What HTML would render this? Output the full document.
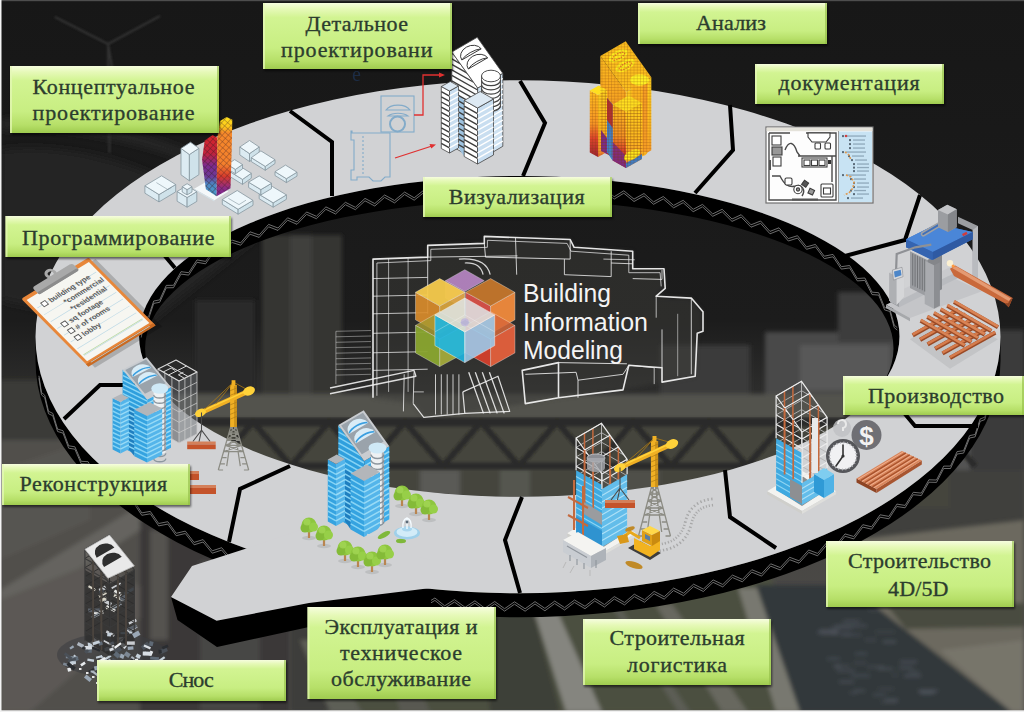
<!DOCTYPE html>
<html lang="ru"><head><meta charset="utf-8"><title>Building Information Modeling</title>
<style>
html,body{margin:0;padding:0;background:#1b1b1b;}
body{width:1024px;height:712px;overflow:hidden;position:relative;font-family:"Liberation Serif",serif;}
svg{display:block;position:absolute;left:0;top:0}
svg text{font-family:"Liberation Serif",serif}
svg text.sans{font-family:"Liberation Sans",sans-serif}
</style></head><body>
<svg width="1024" height="712" viewBox="0 0 1024 712">
<defs>
<linearGradient id="bgv" x1="0" y1="0" x2="0" y2="1">
 <stop offset="0" stop-color="#171717"/><stop offset="0.45" stop-color="#1c1c1c"/>
 <stop offset="0.56" stop-color="#2f2f2e"/><stop offset="0.66" stop-color="#454442"/><stop offset="1" stop-color="#4f4d49"/>
</linearGradient>
<filter id="b2" x="-10%" y="-10%" width="120%" height="120%"><feGaussianBlur stdDeviation="2"/></filter>
<filter id="b4" x="-10%" y="-10%" width="120%" height="120%"><feGaussianBlur stdDeviation="4"/></filter>
<filter id="b1" x="-10%" y="-10%" width="120%" height="120%"><feGaussianBlur stdDeviation="0.8"/></filter>
<filter id="b05" x="-5%" y="-5%" width="110%" height="110%"><feGaussianBlur stdDeviation="0.45"/></filter>
<linearGradient id="lab" x1="0" y1="0" x2="0" y2="1">
 <stop offset="0" stop-color="#f6fdde"/><stop offset="0.09" stop-color="#e6f9b8"/><stop offset="0.22" stop-color="#d2f492"/>
 <stop offset="0.68" stop-color="#c8ee82"/><stop offset="0.88" stop-color="#b6df68"/><stop offset="1" stop-color="#9fcb4f"/>
</linearGradient>
</defs>
<rect width="1024" height="712" fill="url(#bgv)"/>
<g filter="url(#b4)">
<path d="M0,150 C80,140 170,170 260,235 L140,330 L0,300 Z" fill="#262626" opacity="0.8"/>
<path d="M0,120 C60,112 150,130 230,170 L230,178 C150,140 60,124 0,130 Z" fill="#2c2c2c" opacity="0.7"/>
</g>
<g stroke="#3a3a3a" stroke-width="2" fill="none" opacity="0.8" filter="url(#b1)"><path d="M108,44 L109.5,153 M108,44 L55,17 M108,44 L160,16 M108,44 L113,72"/></g>
<g filter="url(#b2)">
<rect x="930" y="330" width="94" height="200" fill="#3b3b3b"/>
<rect x="955" y="395" width="15" height="130" fill="#525252"/>
<rect x="840" y="470" width="184" height="70" fill="#3f3f3e"/>
<rect x="0" y="395" width="300" height="317" fill="#514f4c"/>
<polygon points="0,590 140,505 140,530 0,620" fill="#65635f"/>
<rect x="0" y="380" width="60" height="60" fill="#3a3a39"/>
<polygon points="0,470 90,440 90,520 0,560" fill="#565451"/>
<polygon points="0,600 100,560 160,600 30,712 0,712" fill="#5b5955"/>
<rect x="140" y="520" width="150" height="192" fill="#3a3938"/>
<rect x="150" y="530" width="18" height="110" fill="#55534f"/>
<rect x="200" y="560" width="60" height="150" fill="#474644"/>
<rect x="262" y="235" width="80" height="200" fill="#343432"/>
<rect x="290" y="235" width="22" height="200" fill="#3f3f3c"/>
<rect x="195" y="300" width="60" height="150" fill="#2c2c2b"/>
<rect x="765" y="332" width="150" height="70" fill="#4a4a4a"/>
<rect x="800" y="345" width="90" height="45" fill="#585858"/>
<rect x="838" y="292" width="70" height="50" fill="#3c3c3c"/>
<rect x="660" y="345" width="90" height="50" fill="#3a3a3a"/>
<rect x="170" y="394" width="780" height="24" fill="#53534e"/>
<rect x="170" y="418" width="780" height="90" fill="#44453d"/>
<rect x="420" y="470" width="40" height="40" fill="#5a5a57"/><rect x="500" y="470" width="30" height="40" fill="#55564f"/><rect x="600" y="470" width="60" height="40" fill="#4f504a"/>
</g>
<g stroke="#2b2b29" stroke-width="7" fill="none" filter="url(#b1)">
<path d="M180,422 L940,422" stroke-width="9"/><path d="M180,466 L940,466" stroke-width="7"/>
<path d="M215,466 L253,422 L291,466 M291,466 L329,422 L367,466 M367,466 L405,422 L443,466 M443,466 L481,422 L519,466 M519,466 L557,422 L595,466 M595,466 L633,422 L671,466 M671,466 L709,422 L747,466 M747,466 L785,422 L823,466 M823,466 L861,422 L899,466 M899,466 L937,422 L975,466" stroke-width="6"/>
</g>
<g filter="url(#b2)">
<polygon points="290,590 770,570 800,712 290,712" fill="#4c4f41"/>
<polygon points="290,600 330,600 330,712 290,712" fill="#3d3d3a"/>
<polygon points="480,600 530,600 560,712 490,712" fill="#3e4038"/>
<polygon points="533,608 556,608 602,712 566,712" fill="#85857f"/>
<polygon points="655,604 672,604 748,712 722,712" fill="#67675f"/>
<polygon points="610,604 618,604 690,712 678,712" fill="#5c5d55"/>
<polygon points="756,585 862,585 880,610 1012,712 799,712" fill="#33373a"/>
<polygon points="738,588 757,588 800,712 776,712" fill="#787870"/>
<polygon points="850,540 1024,520 1024,712 1012,712 880,610 862,585" fill="#6c695f"/>
<polygon points="888,607 1024,603 1024,627 906,629" fill="#4a4c40"/>
<polygon points="940,650 1024,640 1024,712 1012,712" fill="#77746a"/>
<g><rect x="855" y="625" width="12" height="1.6" fill="#59606a" opacity="0.70"/><rect x="835" y="666" width="6" height="1.6" fill="#59606a" opacity="0.82"/><rect x="831" y="627" width="22" height="1.6" fill="#59606a" opacity="0.64"/><rect x="878" y="688" width="16" height="1.6" fill="#59606a" opacity="0.48"/><rect x="899" y="667" width="14" height="1.6" fill="#59606a" opacity="0.77"/><rect x="837" y="670" width="18" height="1.6" fill="#59606a" opacity="0.70"/><rect x="817" y="632" width="20" height="1.6" fill="#59606a" opacity="0.64"/><rect x="904" y="675" width="17" height="1.6" fill="#59606a" opacity="0.86"/><rect x="883" y="641" width="13" height="1.6" fill="#59606a" opacity="0.87"/><rect x="849" y="692" width="8" height="1.6" fill="#59606a" opacity="0.51"/><rect x="881" y="701" width="16" height="1.6" fill="#59606a" opacity="0.55"/><rect x="855" y="653" width="12" height="1.6" fill="#59606a" opacity="0.69"/><rect x="900" y="661" width="17" height="1.6" fill="#59606a" opacity="0.86"/><rect x="920" y="690" width="17" height="1.6" fill="#59606a" opacity="0.48"/><rect x="918" y="690" width="20" height="1.6" fill="#59606a" opacity="0.68"/><rect x="851" y="675" width="19" height="1.6" fill="#59606a" opacity="0.69"/><rect x="819" y="630" width="20" height="1.6" fill="#59606a" opacity="0.89"/><rect x="868" y="609" width="13" height="1.6" fill="#59606a" opacity="0.48"/><rect x="875" y="631" width="20" height="1.6" fill="#59606a" opacity="0.42"/><rect x="833" y="665" width="17" height="1.6" fill="#59606a" opacity="0.57"/><rect x="920" y="692" width="14" height="1.6" fill="#59606a" opacity="0.90"/><rect x="821" y="633" width="16" height="1.6" fill="#59606a" opacity="0.42"/><rect x="842" y="621" width="16" height="1.6" fill="#59606a" opacity="0.48"/><rect x="871" y="604" width="11" height="1.6" fill="#59606a" opacity="0.88"/><rect x="873" y="694" width="13" height="1.6" fill="#59606a" opacity="0.66"/><rect x="878" y="668" width="15" height="1.6" fill="#59606a" opacity="0.71"/><rect x="885" y="699" width="13" height="1.6" fill="#59606a" opacity="0.76"/><rect x="835" y="625" width="22" height="1.6" fill="#59606a" opacity="0.66"/><rect x="827" y="658" width="13" height="1.6" fill="#59606a" opacity="0.69"/><rect x="850" y="602" width="16" height="1.6" fill="#59606a" opacity="0.43"/><rect x="867" y="666" width="17" height="1.6" fill="#59606a" opacity="0.58"/><rect x="892" y="674" width="6" height="1.6" fill="#59606a" opacity="0.43"/><rect x="909" y="671" width="10" height="1.6" fill="#59606a" opacity="0.63"/><rect x="854" y="662" width="12" height="1.6" fill="#59606a" opacity="0.56"/><rect x="865" y="639" width="11" height="1.6" fill="#59606a" opacity="0.59"/><rect x="839" y="681" width="15" height="1.6" fill="#59606a" opacity="0.77"/><rect x="832" y="633" width="19" height="1.6" fill="#59606a" opacity="0.52"/><rect x="844" y="620" width="17" height="1.6" fill="#59606a" opacity="0.45"/><rect x="842" y="634" width="19" height="1.6" fill="#59606a" opacity="0.62"/><rect x="854" y="690" width="11" height="1.6" fill="#59606a" opacity="0.73"/></g>
<polygon points="330,712 362,712 318,640 300,640" fill="#5d5e56"/>
<polygon points="400,712 430,712 400,640 380,640" fill="#585951"/>
</g>
<path d="M35.5,336.8 A482.5,256.5 0 0 0 1000.5,336.8 L1000.5,360.8 A482.5,256.5 0 0 1 35.5,360.8 Z" fill="#000"/>
<clipPath id="iwc"><ellipse cx="519.3" cy="336.4" rx="380.2" ry="160.3"/></clipPath>
<path clip-path="url(#iwc)" fill-rule="evenodd" d="M0,0H1024V712H0Z M145.09999999999997,348.4 A374.2,148.3 0 1 0 893.5,348.4 A374.2,148.3 0 1 0 145.09999999999997,348.4 Z" fill="#000"/>
<polyline points="997.9,379.1 995.5,382.2 992.6,398.5 989.0,401.0 984.8,417.2 980.2,418.9 975.1,434.5 969.6,435.6 963.6,450.7 957.1,451.6 950.5,466.1 943.7,466.1 936.5,480.0 928.9,479.8 921.3,493.1 913.3,492.3 905.1,505.4 896.9,504.1 888.9,516.4 880.1,514.8 871.6,526.8 862.8,524.7 853.8,536.5 845.0,533.9 836.1,545.2 827.0,542.3 817.6,553.4 808.7,550.0 799.0,560.8 789.7,557.3 780.3,567.6 770.7,563.8 761.6,573.7 751.8,569.7 742.4,579.4 732.4,575.1 722.8,584.5 713.1,579.9 703.4,589.1 693.6,584.2 683.6,593.2 673.6,588.1 664.2,596.7 654.1,591.4 644.5,599.8 634.3,594.2 624.6,602.5 614.3,596.6 604.5,604.6 594.8,598.5 585.0,606.3 574.5,600.0 564.6,607.6 554.7,601.1 544.9,608.4 535.0,601.6 525.1,608.8 514.5,601.8 504.6,608.7 494.7,601.5 484.8,608.2 474.9,600.8 465.1,607.3 454.5,599.6 444.7,605.8 434.9,598.0 425.2,604.0 414.8,595.9 405.2,601.7 394.9,593.3 385.3,598.9 375.2,590.3 365.7,595.7 355.7,586.9 345.7,591.9 335.9,582.8 326.1,587.6 316.4,578.3 306.8,582.9 297.3,573.4 287.3,577.6 278.1,567.8 268.3,571.8 258.7,561.6 249.8,565.5 239.9,554.9 230.7,558.4 221.7,547.7 212.3,550.8 203.1,539.6 194.1,542.4 185.3,531.1 176.2,533.3 167.8,521.7 158.7,523.5 150.3,511.4 141.8,512.9 133.5,500.3 125.5,501.5 117.5,488.3 109.7,489.0 102.4,475.6 95.0,475.7 88.1,461.7 81.2,461.3 74.9,446.8 68.7,445.8 63.0,430.7 57.6,429.1 52.8,413.4 48.5,411.3 44.7,395.2 41.5,392.5 38.9,375.8" fill="none" stroke="#808080" stroke-width="0.85" />
<polyline points="141.2,335.1 144.3,318.6 148.6,316.4 153.7,301.0 159.7,299.9 166.3,285.4 173.5,285.3 181.0,271.7 188.7,272.7 197.0,259.9 205.6,261.4 214.0,249.4 222.8,251.5 231.8,240.0 240.7,242.8 250.0,231.8 259.2,235.0 268.6,224.4 278.0,228.0 287.6,217.8 297.0,221.9 306.6,212.0 316.4,216.3 325.9,206.9 335.6,211.6 345.4,202.3 355.4,207.3 365.0,198.4 374.8,203.6 384.6,195.0 394.6,200.5 404.6,192.1 414.2,197.8 424.4,189.7 434.2,195.7 444.5,187.7 454.4,194.0 464.3,186.3 474.3,192.7 484.2,185.3 494.2,191.9 504.3,184.7 514.3,191.6 524.3,184.6 534.3,191.7 544.4,184.9 554.4,192.3 564.3,185.7 574.3,193.3 584.2,187.0 594.1,194.7 603.9,188.6 614.2,196.7 623.8,190.8 634.0,199.1 644.0,193.5 653.5,201.9 663.3,196.5 673.6,205.4 683.2,200.3 693.2,209.3 702.5,204.4 712.7,213.9 722.2,209.3 732.0,219.0 741.2,214.7 751.0,224.8 760.6,221.0 770.0,231.4 779.0,227.8 788.3,238.6 797.5,235.7 806.5,246.9 815.4,244.4 824.3,256.2 833.0,254.4 841.3,266.7 849.6,265.5 857.3,278.5 864.9,278.0 872.1,292.2 878.7,292.7 884.6,307.5 889.9,309.1 894.2,325.1 897.3,327.7" fill="none" stroke="#808080" stroke-width="0.85" />
<polyline points="997.9,381.5 995.5,384.6 992.6,400.9 989.0,403.4 984.8,419.6 980.2,421.3 975.1,436.9 969.6,438.0 963.6,453.1 957.1,454.0 950.5,468.5 943.7,468.5 936.5,482.4 928.9,482.2 921.3,495.5 913.3,494.7 905.1,507.8 896.9,506.5 888.9,518.8 880.1,517.2 871.6,529.2 862.8,527.1 853.8,538.9 845.0,536.3 836.1,547.6 827.0,544.7 817.6,555.8 808.7,552.4 799.0,563.2 789.7,559.7 780.3,570.0 770.7,566.2 761.6,576.1 751.8,572.1 742.4,581.8 732.4,577.5 722.8,586.9 713.1,582.3 703.4,591.5 693.6,586.6 683.6,595.6 673.6,590.5 664.2,599.1 654.1,593.8 644.5,602.2 634.3,596.6 624.6,604.9 614.3,599.0 604.5,607.0 594.8,600.9 585.0,608.7 574.5,602.4 564.6,610.0 554.7,603.5 544.9,610.8 535.0,604.0 525.1,611.2 514.5,604.2 504.6,611.1 494.7,603.9 484.8,610.6 474.9,603.2 465.1,609.7 454.5,602.0 444.7,608.2 434.9,600.4 425.2,606.4 414.8,598.3 405.2,604.1 394.9,595.7 385.3,601.3 375.2,592.7 365.7,598.1 355.7,589.3 345.7,594.3 335.9,585.2 326.1,590.0 316.4,580.7 306.8,585.3 297.3,575.8 287.3,580.0 278.1,570.2 268.3,574.2 258.7,564.0 249.8,567.9 239.9,557.3 230.7,560.8 221.7,550.1 212.3,553.2 203.1,542.0 194.1,544.8 185.3,533.5 176.2,535.7 167.8,524.1 158.7,525.9 150.3,513.8 141.8,515.3 133.5,502.7 125.5,503.9 117.5,490.7 109.7,491.4 102.4,478.0 95.0,478.1 88.1,464.1 81.2,463.7 74.9,449.2 68.7,448.2 63.0,433.1 57.6,431.5 52.8,415.8 48.5,413.7 44.7,397.6 41.5,394.9 38.9,378.2" fill="none" stroke="#808080" stroke-width="0.85" />
<polyline points="141.2,337.5 144.3,321.0 148.6,318.8 153.7,303.4 159.7,302.3 166.3,287.8 173.5,287.7 181.0,274.1 188.7,275.1 197.0,262.3 205.6,263.8 214.0,251.8 222.8,253.9 231.8,242.4 240.7,245.2 250.0,234.2 259.2,237.4 268.6,226.8 278.0,230.4 287.6,220.2 297.0,224.3 306.6,214.4 316.4,218.7 325.9,209.3 335.6,214.0 345.4,204.7 355.4,209.7 365.0,200.8 374.8,206.0 384.6,197.4 394.6,202.9 404.6,194.5 414.2,200.2 424.4,192.1 434.2,198.1 444.5,190.1 454.4,196.4 464.3,188.7 474.3,195.1 484.2,187.7 494.2,194.3 504.3,187.1 514.3,194.0 524.3,187.0 534.3,194.1 544.4,187.3 554.4,194.7 564.3,188.1 574.3,195.7 584.2,189.4 594.1,197.1 603.9,191.0 614.2,199.1 623.8,193.2 634.0,201.5 644.0,195.9 653.5,204.3 663.3,198.9 673.6,207.8 683.2,202.7 693.2,211.7 702.5,206.8 712.7,216.3 722.2,211.7 732.0,221.4 741.2,217.1 751.0,227.2 760.6,223.4 770.0,233.8 779.0,230.2 788.3,241.0 797.5,238.1 806.5,249.3 815.4,246.8 824.3,258.6 833.0,256.8 841.3,269.1 849.6,267.9 857.3,280.9 864.9,280.4 872.1,294.6 878.7,295.1 884.6,309.9 889.9,311.5 894.2,327.5 897.3,330.1" fill="none" stroke="#808080" stroke-width="0.85" />
<polygon points="171.0,597.0 177.5,620.0 217.0,647.0 309.0,627.0 431.0,611.0 431.0,586.0 309.0,600.0 216.0,619.0" fill="#000" />
<path fill-rule="evenodd" fill="#d1d2d4" d="M35.5,336.8 A482.5,256.5 0 1 1 1000.5,336.8 A482.5,256.5 0 1 1 35.5,336.8 Z M139.09999999999997,336.4 A380.2,160.3 0 1 0 899.5,336.4 A380.2,160.3 0 1 0 139.09999999999997,336.4 Z"/>
<polygon points="251.0,547.0 192.0,566.0 171.0,597.0 216.6,620.7 309.0,603.0 431.0,588.0 431.0,560.0 300.0,530.0" fill="#d1d2d4" />
<polyline points="150.0,238.0 175.0,268.0" fill="none" stroke="#000" stroke-width="4" stroke-linejoin="miter"/>
<polyline points="290.0,111.0 332.0,142.0 332.0,196.0" fill="none" stroke="#000" stroke-width="4" stroke-linejoin="miter"/>
<polyline points="520.0,81.0 545.0,123.0 523.0,176.0" fill="none" stroke="#000" stroke-width="4" stroke-linejoin="miter"/>
<polyline points="730.0,105.0 733.0,150.0 695.0,193.0" fill="none" stroke="#000" stroke-width="4" stroke-linejoin="miter"/>
<polyline points="920.0,195.0 905.0,240.0 845.0,256.0" fill="none" stroke="#000" stroke-width="4" stroke-linejoin="miter"/>
<polyline points="900.0,408.0 915.0,426.0 978.0,426.0" fill="none" stroke="#000" stroke-width="4" stroke-linejoin="miter"/>
<polyline points="725.0,470.0 730.0,517.0 776.0,548.0" fill="none" stroke="#000" stroke-width="4" stroke-linejoin="miter"/>
<polyline points="522.0,497.0 505.0,540.0 520.0,593.0" fill="none" stroke="#000" stroke-width="4" stroke-linejoin="miter"/>
<polyline points="290.0,466.0 240.0,489.0 229.0,542.0" fill="none" stroke="#000" stroke-width="4" stroke-linejoin="miter"/>
<polyline points="135.0,385.0 100.0,385.0 64.0,419.0" fill="none" stroke="#000" stroke-width="4" stroke-linejoin="miter"/>
<g transform="matrix(0.853,-0.522,0.703,0.711,21.25,298.75)">
<rect x="4" y="5" width="79" height="95" fill="#000" opacity="0.18"/>
<rect x="0" y="0" width="79" height="95" rx="2" fill="#e8873a"/>
<rect x="0" y="92" width="79" height="3.5" fill="#c96a22"/>
<rect x="3" y="4" width="73" height="86" fill="#f6f6f1"/>
<rect x="5" y="16.5" width="69" height="0.7" fill="#bcd9e6"/>
<rect x="5" y="26.0" width="69" height="0.7" fill="#bcd9e6"/>
<rect x="5" y="35.5" width="69" height="0.7" fill="#bcd9e6"/>
<rect x="5" y="45.0" width="69" height="0.7" fill="#bcd9e6"/>
<rect x="5" y="54.5" width="69" height="0.7" fill="#bcd9e6"/>
<rect x="5" y="64.0" width="69" height="0.7" fill="#bcd9e6"/>
<rect x="5" y="73.5" width="69" height="0.7" fill="#bcd9e6"/>
<rect x="5" y="83.0" width="69" height="0.7" fill="#bcd9e6"/>
<rect x="5" y="92.5" width="69" height="0.7" fill="#bcd9e6"/>
<rect x="5" y="82" width="69" height="0.8" fill="#b8d8a0"/>
<rect x="11" y="14.3" width="5" height="5" fill="#fff" stroke="#555" stroke-width="0.9"/>
<text class="sans" x="19" y="19.5" font-size="7.6" font-weight="bold" fill="#5c5c5c">building type</text>
<text class="sans" x="29" y="29.0" font-size="7.6" font-weight="bold" fill="#5c5c5c">*commercial</text>
<text class="sans" x="29" y="38.5" font-size="7.6" font-weight="bold" fill="#5c5c5c">*residential</text>
<rect x="11" y="42.8" width="5" height="5" fill="#fff" stroke="#555" stroke-width="0.9"/>
<text class="sans" x="19" y="48.0" font-size="7.6" font-weight="bold" fill="#5c5c5c">sq footage</text>
<rect x="11" y="52.3" width="5" height="5" fill="#fff" stroke="#555" stroke-width="0.9"/>
<text class="sans" x="19" y="57.5" font-size="7.6" font-weight="bold" fill="#5c5c5c"># of rooms</text>
<rect x="11" y="61.8" width="5" height="5" fill="#fff" stroke="#555" stroke-width="0.9"/>
<text class="sans" x="19" y="67.0" font-size="7.6" font-weight="bold" fill="#5c5c5c">lobby</text>
<rect x="16" y="-4" width="47" height="10" rx="3" fill="#a9a9a9"/>
<rect x="16" y="3" width="47" height="3" rx="1.5" fill="#8c8c8c"/>
<circle cx="39.5" cy="-6" r="4.2" fill="none" stroke="#a9a9a9" stroke-width="3"/>
</g>
<polygon points="239.8,154.9 249.5,161.5 249.5,153.6 239.8,147.0" fill="#dcebf2" stroke="#8797a0" stroke-width="0.8" stroke-linejoin="round" />
<polygon points="249.5,161.5 259.2,154.9 259.2,147.0 249.5,153.6" fill="#cfe2ea" stroke="#8797a0" stroke-width="0.8" stroke-linejoin="round" />
<polygon points="239.8,147.0 249.5,153.6 259.2,147.0 249.5,140.5" fill="#eef7fb" stroke="#8797a0" stroke-width="0.8" stroke-linejoin="round" />
<polygon points="251.3,161.6 265.3,170.3 265.3,166.4 251.3,157.7" fill="#dcebf2" stroke="#8797a0" stroke-width="0.8" stroke-linejoin="round" />
<polygon points="265.3,170.3 275.0,163.5 275.0,159.7 265.3,166.4" fill="#cfe2ea" stroke="#8797a0" stroke-width="0.8" stroke-linejoin="round" />
<polygon points="251.3,157.7 265.3,166.4 275.0,159.7 260.9,150.9" fill="#eef7fb" stroke="#8797a0" stroke-width="0.8" stroke-linejoin="round" />
<polygon points="275.0,175.5 286.4,182.6 286.4,178.7 275.0,171.7" fill="#dcebf2" stroke="#8797a0" stroke-width="0.8" stroke-linejoin="round" />
<polygon points="286.4,182.6 297.0,176.1 297.0,172.2 286.4,178.7" fill="#cfe2ea" stroke="#8797a0" stroke-width="0.8" stroke-linejoin="round" />
<polygon points="275.0,171.7 286.4,178.7 297.0,172.2 285.5,165.1" fill="#eef7fb" stroke="#8797a0" stroke-width="0.8" stroke-linejoin="round" />
<polygon points="230.2,176.7 242.5,184.4 242.5,179.4 230.2,171.8" fill="#dcebf2" stroke="#8797a0" stroke-width="0.8" stroke-linejoin="round" />
<polygon points="242.5,184.4 251.3,178.2 251.3,173.3 242.5,179.4" fill="#cfe2ea" stroke="#8797a0" stroke-width="0.8" stroke-linejoin="round" />
<polygon points="230.2,171.8 242.5,179.4 251.3,173.3 239.0,165.7" fill="#eef7fb" stroke="#8797a0" stroke-width="0.8" stroke-linejoin="round" />
<polygon points="227.5,168.9 235.4,173.8 235.4,169.4 227.5,164.5" fill="#dcebf2" stroke="#8797a0" stroke-width="0.8" stroke-linejoin="round" />
<polygon points="235.4,173.8 242.5,168.9 242.5,164.5 235.4,169.4" fill="#cfe2ea" stroke="#8797a0" stroke-width="0.8" stroke-linejoin="round" />
<polygon points="227.5,164.5 235.4,169.4 242.5,164.5 234.6,159.6" fill="#eef7fb" stroke="#8797a0" stroke-width="0.8" stroke-linejoin="round" />
<polygon points="194.1,188.8 208.2,180.8 228.4,191.4 214.4,200.2" fill="#f4f8fa" />
<polygon points="194.1,188.8 214.4,200.2 214.4,201.6 194.1,190.0" fill="#d5e2e8" />
<polygon points="181.0,174.8 189.4,180.8 189.4,154.5 181.0,148.4" fill="#dcebf2" stroke="#8797a0" stroke-width="0.8" stroke-linejoin="round" />
<polygon points="189.4,180.8 198.9,174.7 198.9,148.3 189.4,154.5" fill="#cfe2ea" stroke="#8797a0" stroke-width="0.8" stroke-linejoin="round" />
<polygon points="181.0,148.4 189.4,154.5 198.9,148.3 190.5,142.2" fill="#eef7fb" stroke="#8797a0" stroke-width="0.8" stroke-linejoin="round" />
<polygon points="144.9,193.2 159.0,201.9 159.0,194.6 144.9,185.8" fill="#dcebf2" stroke="#8797a0" stroke-width="0.8" stroke-linejoin="round" />
<polygon points="159.0,201.9 175.7,191.9 175.7,184.5 159.0,194.6" fill="#cfe2ea" stroke="#8797a0" stroke-width="0.8" stroke-linejoin="round" />
<polygon points="144.9,185.8 159.0,194.6 175.7,184.5 161.6,175.8" fill="#eef7fb" stroke="#8797a0" stroke-width="0.8" stroke-linejoin="round" />
<polyline points="156.4,182.6 167.8,189.6 171.3,187.5" fill="none" stroke="#8797a0" stroke-width="0.6" />
<polygon points="177.1,201.2 187.1,207.2 187.1,197.5 177.1,191.5" fill="#dcebf2" stroke="#8797a0" stroke-width="0.8" stroke-linejoin="round" />
<polygon points="187.1,207.2 196.8,201.4 196.8,191.7 187.1,197.5" fill="#cfe2ea" stroke="#8797a0" stroke-width="0.8" stroke-linejoin="round" />
<polygon points="177.1,191.5 187.1,197.5 196.8,191.7 186.8,185.7" fill="#eef7fb" stroke="#8797a0" stroke-width="0.8" stroke-linejoin="round" />
<polygon points="182.2,192.0 187.1,194.9 187.1,189.6 182.2,186.7" fill="#dcebf2" stroke="#8797a0" stroke-width="0.8" stroke-linejoin="round" />
<polygon points="187.1,194.9 192.0,192.0 192.0,186.7 187.1,189.6" fill="#cfe2ea" stroke="#8797a0" stroke-width="0.8" stroke-linejoin="round" />
<polygon points="182.2,186.7 187.1,189.6 192.0,186.7 187.1,183.7" fill="#eef7fb" stroke="#8797a0" stroke-width="0.8" stroke-linejoin="round" />
<polygon points="259.2,198.8 273.2,207.2 273.2,202.8 259.2,194.4" fill="#dcebf2" stroke="#8797a0" stroke-width="0.8" stroke-linejoin="round" />
<polygon points="273.2,207.2 286.4,199.3 286.4,194.9 273.2,202.8" fill="#cfe2ea" stroke="#8797a0" stroke-width="0.8" stroke-linejoin="round" />
<polygon points="259.2,194.4 273.2,202.8 286.4,194.9 272.4,186.5" fill="#eef7fb" stroke="#8797a0" stroke-width="0.8" stroke-linejoin="round" />
<polygon points="248.6,187.5 260.9,194.9 260.9,189.6 248.6,182.2" fill="#dcebf2" stroke="#8797a0" stroke-width="0.8" stroke-linejoin="round" />
<polygon points="260.9,194.9 271.5,188.6 271.5,183.3 260.9,189.6" fill="#cfe2ea" stroke="#8797a0" stroke-width="0.8" stroke-linejoin="round" />
<polygon points="248.6,182.2 260.9,189.6 271.5,183.3 259.2,175.9" fill="#eef7fb" stroke="#8797a0" stroke-width="0.8" stroke-linejoin="round" />
<polygon points="222.3,204.4 238.1,214.2 238.1,209.3 222.3,199.5" fill="#dcebf2" stroke="#8797a0" stroke-width="0.8" stroke-linejoin="round" />
<polygon points="238.1,214.2 253.0,205.3 253.0,200.4 238.1,209.3" fill="#cfe2ea" stroke="#8797a0" stroke-width="0.8" stroke-linejoin="round" />
<polygon points="222.3,199.5 238.1,209.3 253.0,200.4 237.2,190.5" fill="#eef7fb" stroke="#8797a0" stroke-width="0.8" stroke-linejoin="round" />
<polyline points="228.4,198.4 239.0,204.6 246.0,200.2" fill="none" stroke="#8797a0" stroke-width="0.6" />
<defs><linearGradient id="twL" x1="0" y1="0" x2="0" y2="1"><stop offset="0" stop-color="#d8262a"/><stop offset="0.3" stop-color="#c0233c"/><stop offset="0.5" stop-color="#7d2a8e"/><stop offset="0.68" stop-color="#6a3a98"/><stop offset="0.8" stop-color="#4b86c2"/><stop offset="1" stop-color="#4aa0cf"/></linearGradient><linearGradient id="twR" x1="0" y1="0" x2="0" y2="1"><stop offset="0" stop-color="#ffe21c"/><stop offset="0.13" stop-color="#fdc51c"/><stop offset="0.2" stop-color="#f6892a"/><stop offset="0.6" stop-color="#f47f2c"/><stop offset="0.75" stop-color="#d63a2c"/><stop offset="0.9" stop-color="#8c2a86"/><stop offset="1" stop-color="#7a2a90"/></linearGradient><pattern id="dia" width="4.4" height="4.4" patternUnits="userSpaceOnUse" patternTransform="rotate(42)"><path d="M0,0H4.4M0,0V4.4" stroke="#3a1c24" stroke-width="0.9" fill="none"/></pattern></defs>
<polygon points="204.7,140.4 212.6,135.1 217.3,137.8 216.6,196.3 205.9,189.3 202.1,159.8" fill="url(#twL)" />
<polygon points="217.3,137.8 220.0,121.1 226.7,116.9 232.3,119.7 231.6,152.7 230.5,188.2 216.6,196.3" fill="url(#twR)" />
<polygon points="204.7,140.4 212.6,135.1 217.3,137.8 216.6,196.3 205.9,189.3 202.1,159.8" fill="url(#dia)" opacity="0.75"/>
<polygon points="217.3,137.8 220.0,121.1 226.7,116.9 232.3,119.7 231.6,152.7 230.5,188.2 216.6,196.3" fill="url(#dia)" opacity="0.6"/>
<g fill="none" stroke="#7fa9c9" stroke-width="1.1" opacity="0.95">
<rect x="381" y="96" width="33" height="36"/>
<path d="M386,110 A13,8 0 0 1 410,110 Z M388,116 A12,6 0 0 1 408,116 Z"/>
<circle cx="397.5" cy="124" r="7.5" stroke-width="2"/>
<path d="M352,133 h38 v44 h-5 l-4,4 h-8 l-4,-4 h-12 v3 h-6 v-10 h3 v-30 h-3 v-9 h1 z"/>
<path d="M363,136 v40" stroke-dasharray="2 2"/>
</g>
<g fill="none" stroke="#e03030" stroke-width="1.3"><path d="M414,115 h9 v-40 h20"/><path d="M395,158 L432,146"/></g>
<path d="M445,75 l-6,-2.5 v5z M436,144.5 l-6.5,-0.5 l1.8,4.5z" fill="#e03030"/>
<polygon points="451.8,52.0 477.7,88.0 477.7,161.0 451.8,146.3" fill="#fdfdfd" stroke="#444" stroke-width="0.8" stroke-linejoin="round" />
<polygon points="477.7,88.0 502.8,73.3 502.8,146.3 477.7,161.0" fill="#cfe2f2" stroke="#444" stroke-width="0.8" stroke-linejoin="round" />
<polygon points="458.5,148.0 464.2,156.5 464.2,100.5 458.5,94.0" fill="#9fc3e0" />
<clipPath id="c1"><polygon points="451.8,52.0 477.7,88.0 477.7,161.0 451.8,146.3"/></clipPath>
<path d="M451.8,140.8L477.7,155.5M451.8,135.4L477.7,150.1M451.8,129.9L477.7,144.6M451.8,124.5L477.7,139.2M451.8,119.0L477.7,133.7M451.8,113.5L477.7,128.2M451.8,108.1L477.7,122.8M451.8,102.6L477.7,117.3M451.8,97.1L477.7,111.8M451.8,91.7L477.7,106.4M451.8,86.2L477.7,100.9M451.8,80.8L477.7,95.5M451.8,75.3L477.7,90.0M451.8,69.8L477.7,84.5M451.8,64.4L477.7,79.1M451.8,58.9L477.7,73.6M451.8,53.4L477.7,68.1M451.8,48.0L477.7,62.7M451.8,42.5L477.7,57.2M451.8,37.1L477.7,51.8" stroke="#3d3d3d" stroke-width="1.35" fill="none" opacity="1" clip-path="url(#c1)"/>
<path d="M477.7,155.8L502.8,141.1M477.7,150.6L502.8,135.9M477.7,145.4L502.8,130.7M477.7,140.1L502.8,125.4M477.7,134.9L502.8,120.2M477.7,129.7L502.8,115.0M477.7,124.5L502.8,109.8M477.7,119.3L502.8,104.6M477.7,114.1L502.8,99.4M477.7,108.9L502.8,94.2M477.7,103.6L502.8,88.9M477.7,98.4L502.8,83.7M477.7,93.2L502.8,78.5" stroke="#ffffff" stroke-width="1.35" fill="none" opacity="1"/>
<polygon points="451.8,52.0 477.2,37.3 502.8,73.3 477.7,88.0" fill="#ffffff" stroke="#444" stroke-width="0.8" stroke-linejoin="round" />
<g transform="matrix(25.40,-14.70,25.90,36.00,451.80,52.00)">
<path d="M0.12,0.27 A0.38,0.2 0 0 1 0.88,0.27 Z M0.12,0.27 A0.5,0.14 0 0 1 0.88,0.27" fill="#fff" stroke="#3a3a3a" stroke-width="1" vector-effect="non-scaling-stroke"/>
<path d="M0.12,0.52 A0.38,0.2 0 0 1 0.88,0.52 Z M0.12,0.52 A0.5,0.14 0 0 1 0.88,0.52" fill="#fff" stroke="#3a3a3a" stroke-width="1" vector-effect="non-scaling-stroke"/>
</g>
<path d="M481.5,76.0 v30.0 a9.5,5.5 0 0 0 19.0,0 v-30.0Z" fill="#fff" stroke="#3a3a3a" stroke-width="0.8"/>
<clipPath id="c2"><polygon points="481.5,76.0 481.5,116.0 500.5,116.0 500.5,76.0"/></clipPath>
<path d="M481.5,80.2 a9.5,5.5 0 0 0 19.0,0M481.5,84.4 a9.5,5.5 0 0 0 19.0,0M481.5,88.6 a9.5,5.5 0 0 0 19.0,0M481.5,92.8 a9.5,5.5 0 0 0 19.0,0M481.5,97.0 a9.5,5.5 0 0 0 19.0,0M481.5,101.2 a9.5,5.5 0 0 0 19.0,0M481.5,105.4 a9.5,5.5 0 0 0 19.0,0" stroke="#444" stroke-width="1.3" fill="none"/>
<ellipse cx="491.0" cy="76.0" rx="9.5" ry="5.8" fill="#fff" stroke="#3a3a3a" stroke-width="0.9"/>
<polygon points="441.3,148.5 449.5,153.0 449.5,91.0 441.3,86.5" fill="#ffffff" stroke="#444" stroke-width="0.8" stroke-linejoin="round" />
<polygon points="449.5,153.0 458.5,148.0 458.5,86.0 449.5,91.0" fill="#c9def0" stroke="#444" stroke-width="0.8" stroke-linejoin="round" />
<polygon points="441.3,86.5 449.5,91.0 458.5,86.0 450.3,81.5" fill="#dde9f3" stroke="#444" stroke-width="0.8" stroke-linejoin="round" />
<polygon points="464.2,156.5 477.5,164.0 477.5,108.0 464.2,100.5" fill="#ffffff" stroke="#444" stroke-width="0.8" stroke-linejoin="round" />
<polygon points="477.5,164.0 493.5,155.0 493.5,99.0 477.5,108.0" fill="#c9def0" stroke="#444" stroke-width="0.8" stroke-linejoin="round" />
<polygon points="464.2,100.5 477.5,108.0 493.5,99.0 480.2,91.5" fill="#dde9f3" stroke="#444" stroke-width="0.8" stroke-linejoin="round" />
<path d="M441.3,143.3L449.5,147.8M441.3,138.2L449.5,142.7M441.3,133.0L449.5,137.5M441.3,127.8L449.5,132.3M441.3,122.7L449.5,127.2M441.3,117.5L449.5,122.0M441.3,112.3L449.5,116.8M441.3,107.2L449.5,111.7M441.3,102.0L449.5,106.5M441.3,96.8L449.5,101.3M441.3,91.7L449.5,96.2" stroke="#3d3d3d" stroke-width="1.35" fill="none" opacity="1"/>
<path d="M464.2,150.9L477.5,158.4M464.2,145.3L477.5,152.8M464.2,139.7L477.5,147.2M464.2,134.1L477.5,141.6M464.2,128.5L477.5,136.0M464.2,122.9L477.5,130.4M464.2,117.3L477.5,124.8M464.2,111.7L477.5,119.2M464.2,106.1L477.5,113.6" stroke="#3d3d3d" stroke-width="1.35" fill="none" opacity="1"/>
<path d="M449.5,147.8L458.5,142.8M449.5,142.7L458.5,137.7M449.5,137.5L458.5,132.5M449.5,132.3L458.5,127.3M449.5,127.2L458.5,122.2M449.5,122.0L458.5,117.0M449.5,116.8L458.5,111.8M449.5,111.7L458.5,106.7M449.5,106.5L458.5,101.5M449.5,101.3L458.5,96.3M449.5,96.2L458.5,91.2" stroke="#ffffff" stroke-width="1.35" fill="none" opacity="1"/>
<path d="M477.5,158.4L493.5,149.4M477.5,152.8L493.5,143.8M477.5,147.2L493.5,138.2M477.5,141.6L493.5,132.6M477.5,136.0L493.5,127.0M477.5,130.4L493.5,121.4M477.5,124.8L493.5,115.8M477.5,119.2L493.5,110.2M477.5,113.6L493.5,104.6" stroke="#ffffff" stroke-width="1.35" fill="none" opacity="1"/>
<defs>
<linearGradient id="hL" x1="0" y1="0" x2="0" y2="1"><stop offset="0" stop-color="#fbbb1e"/><stop offset="0.4" stop-color="#f7a421"/><stop offset="0.6" stop-color="#ee7a28"/><stop offset="0.8" stop-color="#c8322a"/><stop offset="1" stop-color="#a8242e"/></linearGradient>
<linearGradient id="hR" x1="0" y1="0" x2="0" y2="1"><stop offset="0" stop-color="#ffd21e"/><stop offset="0.6" stop-color="#fcb61f"/><stop offset="0.9" stop-color="#f6972a"/><stop offset="1" stop-color="#e8642a"/></linearGradient>
<linearGradient id="hW" x1="0" y1="0" x2="0" y2="1"><stop offset="0" stop-color="#fdbd1f"/><stop offset="0.5" stop-color="#f59424"/><stop offset="0.72" stop-color="#dc442a"/><stop offset="1" stop-color="#9c2430"/></linearGradient>
<pattern id="hg" width="3.2" height="2.9" patternUnits="userSpaceOnUse"><path d="M0,0H3.2M0,0V2.9" stroke="#7a3a10" stroke-width="0.55" fill="none"/></pattern>
</defs>
<polygon points="600.3,56.0 626.2,92.0 626.2,165.0 600.3,150.3" fill="url(#hL)" />
<polygon points="626.2,92.0 651.3,77.3 651.3,150.3 626.2,165.0" fill="url(#hR)" />
<polygon points="607.0,152.0 612.7,160.5 612.7,104.5 607.0,98.0" fill="#3f7fc6" />
<polygon points="600.3,56.0 625.7,41.3 651.3,77.3 626.2,92.0" fill="#fbbf1e" />
<g transform="matrix(25.40,-14.70,25.90,36.00,600.30,56.00)">
<ellipse cx="0.5" cy="0.2" rx="0.36" ry="0.115" fill="#ffea1e"/>
<ellipse cx="0.5" cy="0.21000000000000002" rx="0.24" ry="0.055" fill="none" stroke="#ee7f2a" stroke-width="0.035" stroke-dasharray="0.05 0.035"/>
<ellipse cx="0.5" cy="0.47" rx="0.36" ry="0.115" fill="#ffea1e"/>
<ellipse cx="0.5" cy="0.48" rx="0.24" ry="0.055" fill="none" stroke="#ee7f2a" stroke-width="0.035" stroke-dasharray="0.05 0.035"/>
</g>
<path d="M631.5,80.0 v72.0 a8.0,4.5 0 0 0 16.0,0 v-72.0Z" fill="#fbb31f"/>
<rect x="642.5" y="80.0" width="5.0" height="72.0" fill="#f08a28" opacity="0.55"/>
<ellipse cx="639.5" cy="80.0" rx="9.5" ry="5.8" fill="#fff024"/>
<polygon points="589.8,152.5 598.0,157.0 598.0,95.0 589.8,90.5" fill="url(#hW)" />
<polygon points="598.0,157.0 607.0,152.0 607.0,90.0 598.0,95.0" fill="url(#hR)" />
<polygon points="589.8,90.5 598.0,95.0 607.0,90.0 598.8,85.5" fill="#ffdf20" />
<polygon points="612.7,160.5 626.0,168.0 626.0,112.0 612.7,104.5" fill="url(#hW)" />
<polygon points="626.0,168.0 642.0,159.0 642.0,103.0 626.0,112.0" fill="url(#hR)" />
<polygon points="612.7,104.5 626.0,112.0 642.0,103.0 628.7,95.5" fill="#ffdf20" />
<polygon points="607.0,152.0 612.7,160.5 612.7,128.0 607.0,120.0" fill="#3f7fc6" />
<polygon points="607.0,120.0 612.7,128.0 612.7,105.0 607.0,98.0" fill="#b03030" />
<polygon points="601.0,151.0 607.0,154.0 607.0,138.0 601.0,130.0" fill="#7b2a8a" />
<polygon points="612.7,160.5 626.0,168.0 626.0,156.0 612.7,142.0" fill="#7b2a8a" opacity="0.9"/>
<polygon points="626.0,168.0 642.0,159.0 642.0,154.0 626.0,163.0" fill="#3f7fc6" />
<ellipse cx="632.0" cy="155.0" rx="9" ry="4.5" fill="#ffe81a" transform="rotate(-28 632.0 155.0)"/>
<polygon points="600.3,56.0 626.2,92.0 626.2,165.0 600.3,150.3" fill="url(#hg)" opacity="0.7"/>
<polygon points="626.2,92.0 651.3,77.3 651.3,150.3 626.2,165.0" fill="url(#hg)" opacity="0.7"/>
<polygon points="589.8,152.5 598.0,157.0 598.0,95.0 589.8,90.5" fill="url(#hg)" opacity="0.7"/>
<polygon points="598.0,157.0 607.0,152.0 607.0,90.0 598.0,95.0" fill="url(#hg)" opacity="0.7"/>
<polygon points="612.7,160.5 626.0,168.0 626.0,112.0 612.7,104.5" fill="url(#hg)" opacity="0.7"/>
<polygon points="626.0,168.0 642.0,159.0 642.0,103.0 626.0,112.0" fill="url(#hg)" opacity="0.7"/>
<polygon points="600.3,56.0 625.7,41.3 651.3,77.3 626.2,92.0" fill="url(#hg)" opacity="0.7"/>
<rect x="766" y="127" width="107" height="76" fill="#fdfdfd" stroke="#6f6f6f" stroke-width="1.2"/>
<rect x="766.6" y="127.6" width="105.8" height="3.6" fill="#e4e2da"/>
<rect x="838.5" y="131.5" width="33.5" height="70.5" fill="#c8e3f3"/>
<rect x="838" y="131" width="0.8" height="72" fill="#8a8a8a"/>
<g fill="none" stroke="#4a4a4a" stroke-width="1.4">
<path d="M769,133 V200 H836 V133 H806 M769,133 H790"/>
<path d="M798,156 H836 M832,156 V182"/>
<path d="M785,150 C789,140 794,142 797,152 L800,156"/>
<path d="M772,176 H780 C784,184 788,188 796,186 C802,184 806,190 802,196"/>
</g>
<g fill="#fff" stroke="#3c3c3c" stroke-width="1.1">
<path d="M808,133 h22 v4 l-4,5 h-14 l-4,-5z" />
<rect x="815" y="143" width="5.5" height="6" rx="1"/><rect x="825" y="143" width="5.5" height="6" rx="1"/>
<rect x="802" y="158" width="25" height="9"/><rect x="804" y="160" width="6" height="5.5"/><rect x="811.5" y="160" width="6" height="5.5"/><rect x="819" y="160" width="6" height="5.5"/>
<rect x="772" y="136" width="9" height="9"/><rect x="772" y="147" width="10" height="8" fill="#999"/><rect x="773" y="157" width="8" height="9"/>
<rect x="785" y="178" width="7" height="7" rx="1.5"/><circle cx="798" cy="189.5" r="4.2"/><circle cx="798" cy="189.5" r="1.6" fill="#999"/>
<rect x="821" y="184" width="12" height="13" rx="1"/><rect x="823.5" y="188" width="7" height="6"/>
<rect x="803" y="181" width="5" height="5" transform="rotate(35 805 183)" fill="#555"/><rect x="809" y="189" width="5" height="5" transform="rotate(25 811 191)" fill="#999"/>
</g>
<rect x="792" y="198.5" width="26" height="2" fill="#555"/><rect x="769" y="160" width="2" height="10" fill="#555"/><rect x="828" y="160" width="3" height="4" fill="#333"/>
<rect x="842" y="135.1" width="2" height="2" fill="#5b6c7a"/><rect x="846" y="135.4" width="20" height="1.3" fill="#8fa9bb"/><rect x="849" y="139.1" width="2" height="2" fill="#5b6c7a"/><rect x="853" y="139.4" width="12" height="1.3" fill="#8fa9bb"/><rect x="849" y="143.1" width="2" height="2" fill="#5b6c7a"/><rect x="853" y="143.4" width="12" height="1.3" fill="#8fa9bb"/><rect x="849" y="147.1" width="2" height="2" fill="#5b6c7a"/><rect x="853" y="147.4" width="12" height="1.3" fill="#8fa9bb"/><rect x="842" y="151.1" width="2" height="2" fill="#5b6c7a"/><rect x="846" y="151.4" width="20" height="1.3" fill="#8fa9bb"/><rect x="848" y="155.1" width="2" height="2" fill="#5b6c7a"/><rect x="852" y="155.4" width="12" height="1.3" fill="#8fa9bb"/><rect x="851" y="159.1" width="2" height="2" fill="#5b6c7a"/><rect x="855" y="159.4" width="12" height="1.3" fill="#8fa9bb"/><rect x="853" y="163.1" width="2" height="2" fill="#5b6c7a"/><rect x="857" y="163.4" width="12" height="1.3" fill="#8fa9bb"/><rect x="853" y="166.6" width="2" height="2" fill="#5b6c7a"/><rect x="857" y="166.9" width="12" height="1.3" fill="#8fa9bb"/><rect x="853" y="170.1" width="2" height="2" fill="#5b6c7a"/><rect x="857" y="170.4" width="12" height="1.3" fill="#8fa9bb"/><rect x="842" y="174.1" width="2" height="2" fill="#5b6c7a"/><rect x="846" y="174.4" width="20" height="1.3" fill="#8fa9bb"/><rect x="850" y="178.1" width="2" height="2" fill="#5b6c7a"/><rect x="854" y="178.4" width="12" height="1.3" fill="#8fa9bb"/><rect x="853" y="182.1" width="2" height="2" fill="#5b6c7a"/><rect x="857" y="182.4" width="12" height="1.3" fill="#8fa9bb"/><rect x="853" y="186.1" width="2" height="2" fill="#5b6c7a"/><rect x="857" y="186.4" width="12" height="1.3" fill="#8fa9bb"/><rect x="850" y="189.6" width="2" height="2" fill="#5b6c7a"/><rect x="854" y="189.9" width="12" height="1.3" fill="#8fa9bb"/><rect x="853" y="193.1" width="2" height="2" fill="#5b6c7a"/><rect x="857" y="193.4" width="12" height="1.3" fill="#8fa9bb"/><rect x="847" y="197.1" width="2" height="2" fill="#5b6c7a"/><rect x="851" y="197.4" width="12" height="1.3" fill="#8fa9bb"/>
<path d="M845,152 l4,3 l2,5 M846,175 l5,2 l3,5 l-1,6 l-4,5 l-5,2" stroke="#e09a50" stroke-width="1.6" fill="none" stroke-dasharray="2 1.6"/>
<circle cx="846" cy="136" r="1.3" fill="#d04040"/>
<polygon points="886.0,304.7 947.3,275.3 982.0,291.3 910.0,318.0" fill="#c4c5c8" />
<polygon points="886.0,304.7 910.0,318.0 910.0,321.2 886.0,307.9" fill="#a6a8ab" />
<polygon points="958.0,216.7 978.0,226.0 978.0,278.0 972.7,280.7 972.7,230.0 958.0,223.3" fill="#9b9da1" />
<polygon points="972.7,230.0 978.0,226.0 978.0,278.0 972.7,280.7" fill="#b9bbbf" />
<polygon points="890.0,295.3 950.0,267.3 958.0,271.3 899.3,300.7" fill="#c9cacd" />
<polygon points="890.0,295.3 899.3,300.7 899.3,307.3 890.0,302.0" fill="#9b9da1" />
<polygon points="899.3,300.7 958.0,271.3 958.0,278.0 899.3,307.3" fill="#b9bbbf" />
<polygon points="910.0,251.3 927.3,259.9 927.3,296.7 910.0,288.1" fill="#9b9da1" />
<polygon points="927.3,259.9 942.0,252.7 942.0,289.2 927.3,296.7" fill="#84868a" />
<polygon points="924.7,260.7 934.0,265.2 934.0,308.7 924.7,304.1" fill="#a9abaf" />
<polygon points="934.0,265.2 939.9,262.3 939.9,305.7 934.0,308.7" fill="#8c8e92" />
<path d="M912.7,253.5v32M915.1,254.7v32M917.5,255.9v32M919.9,257.1v32M922.3,258.3v32M924.7,259.5v32" stroke="#6d6f73" stroke-width="0.9" fill="none"/>
<polygon points="950.0,268.7 955.3,265.5 1012.7,298.0 1008.7,307.3 1004.7,303.3 954.0,275.9" fill="#c9693b" />
<polygon points="952.1,267.9 955.9,266.3 1011.3,298.8 1008.7,300.9" fill="#e49a72" />
<polygon points="1004.7,303.3 1008.7,307.3 1012.7,298.0 1010.5,299.3 1008.1,303.3" fill="#8e4423" />
<circle cx="950.0" cy="263.3" r="3.2" fill="#fff3d0" opacity="0.9"/><circle cx="953.2" cy="266.0" r="1.6" fill="#ff9a40"/>
<polygon points="906.0,239.3 936.7,224.1 972.7,232.1 972.7,239.3 931.9,259.9 906.0,247.3" fill="#3b6fc0" />
<polygon points="906.0,239.3 936.7,224.1 972.7,232.1 932.7,251.9" fill="#4a86d8" />
<polygon points="906.0,239.3 932.7,251.9 932.7,259.9 906.0,247.3" fill="#3564b0" />
<polygon points="932.7,251.9 972.7,232.1 972.7,239.3 932.7,259.9" fill="#2f5aa3" />
<rect x="962.0" y="234.0" width="5" height="2.5" fill="#d23c3c" transform="rotate(-27 962.0 234.0)"/>
<path d="M923.3,234.0 L939.9,224.1" stroke="#9fa1a5" stroke-width="5" stroke-linecap="round" fill="none"/>
<path d="M923.3,234.0 L939.9,224.1" stroke="#3f6fb8" stroke-width="2" stroke-linecap="round" fill="none"/>
<polygon points="938.0,210.0 947.3,204.7 956.7,209.2 956.7,227.3 947.9,232.1 938.0,227.3" fill="#9b9da1" />
<polygon points="938.0,210.0 947.3,204.7 956.7,209.2 947.9,214.5" fill="#c3c4c7" />
<polygon points="947.9,214.5 956.7,209.2 956.7,227.3 947.9,232.1" fill="#84868a" />
<path d="M931.3,244.7 L915.3,247.3 L896.7,254.0 L896.1,270.0" stroke="#8f9195" stroke-width="2.2" fill="none"/>
<polygon points="889.2,272.7 896.7,268.7 904.1,272.1 904.1,296.7 896.7,304.7 889.2,300.7" fill="#c6c7ca" />
<polygon points="889.2,272.7 896.7,276.4 896.7,304.7 889.2,300.7" fill="#aeb0b3" />
<polygon points="896.7,276.4 904.1,272.1 904.1,296.7 896.7,304.7" fill="#d5d6d8" />
<polygon points="892.4,270.0 902.0,267.3 903.1,276.7 893.5,280.1" fill="#d9dadc" stroke="#8a8c90" stroke-width="0.6" stroke-linejoin="round" />
<polygon points="894.0,271.6 900.7,269.7 901.5,275.3 894.8,277.5" fill="#4d86c8" />
<polygon points="910.0,339.3 950.0,315.3 998.0,339.3 950.0,368.7" fill="#b9babd" opacity="0.6"/>
<path d="M912.7,335.3L958.0,310.0" stroke="#9a4a26" stroke-width="4.2" stroke-linecap="butt"/>
<path d="M912.7,334.5L958.0,309.2" stroke="#d57b4c" stroke-width="2.6" stroke-linecap="butt"/>
<path d="M920.1,339.9L965.5,314.5" stroke="#9a4a26" stroke-width="4.2" stroke-linecap="butt"/>
<path d="M920.1,339.1L965.5,313.7" stroke="#d57b4c" stroke-width="2.6" stroke-linecap="butt"/>
<path d="M927.6,344.4L972.9,319.1" stroke="#9a4a26" stroke-width="4.2" stroke-linecap="butt"/>
<path d="M927.6,343.6L972.9,318.3" stroke="#d57b4c" stroke-width="2.6" stroke-linecap="butt"/>
<path d="M935.1,348.9L980.4,323.6" stroke="#9a4a26" stroke-width="4.2" stroke-linecap="butt"/>
<path d="M935.1,348.1L980.4,322.8" stroke="#d57b4c" stroke-width="2.6" stroke-linecap="butt"/>
<path d="M942.5,353.5L987.9,328.1" stroke="#9a4a26" stroke-width="4.2" stroke-linecap="butt"/>
<path d="M942.5,352.7L987.9,327.3" stroke="#d57b4c" stroke-width="2.6" stroke-linecap="butt"/>
<path d="M950.0,358.0L995.3,332.7" stroke="#9a4a26" stroke-width="4.2" stroke-linecap="butt"/>
<path d="M950.0,357.2L995.3,331.9" stroke="#d57b4c" stroke-width="2.6" stroke-linecap="butt"/>
<path d="M920.7,320.7L964.7,346.0" stroke="#9a4a26" stroke-width="4.2" stroke-linecap="butt"/>
<path d="M920.7,319.9L964.7,345.2" stroke="#d98354" stroke-width="2.6" stroke-linecap="butt"/>
<path d="M927.3,316.9L971.3,342.3" stroke="#9a4a26" stroke-width="4.2" stroke-linecap="butt"/>
<path d="M927.3,316.1L971.3,341.5" stroke="#d98354" stroke-width="2.6" stroke-linecap="butt"/>
<path d="M934.0,313.2L978.0,338.5" stroke="#9a4a26" stroke-width="4.2" stroke-linecap="butt"/>
<path d="M934.0,312.4L978.0,337.7" stroke="#d98354" stroke-width="2.6" stroke-linecap="butt"/>
<path d="M940.7,309.5L984.7,334.8" stroke="#9a4a26" stroke-width="4.2" stroke-linecap="butt"/>
<path d="M940.7,308.7L984.7,334.0" stroke="#d98354" stroke-width="2.6" stroke-linecap="butt"/>
<path d="M947.3,305.7L991.3,331.1" stroke="#9a4a26" stroke-width="4.2" stroke-linecap="butt"/>
<path d="M947.3,304.9L991.3,330.3" stroke="#d98354" stroke-width="2.6" stroke-linecap="butt"/>
<path d="M954.0,302.0L998.0,327.3" stroke="#9a4a26" stroke-width="4.2" stroke-linecap="butt"/>
<path d="M954.0,301.2L998.0,326.5" stroke="#d98354" stroke-width="2.6" stroke-linecap="butt"/>
<polygon points="767.1,491.3 802.0,511.0 836.1,491.3 801.5,470.6" fill="#f3f3f0" />
<polygon points="767.1,491.3 802.0,511.0 802.0,514.0 767.1,494.3" fill="#cfcfcb" />
<polygon points="802.0,511.0 836.1,491.3 836.1,494.3 802.0,514.0" fill="#dededb" />
<polygon points="779.1,491.3 802.0,506.0 824.1,491.3 801.5,475.6" fill="#3a3a3a" opacity="0.55"/>
<clipPath id="c3"><polygon points="801.5,475.6 827.1,490.3 827.1,417.3 801.5,381.3"/></clipPath>
<path d="M776.1,480.9L801.5,466.2M776.1,471.4L801.5,456.7M776.1,462.0L801.5,447.3M776.1,452.6L801.5,437.9M776.1,443.2L801.5,428.5M776.1,433.7L801.5,419.0M776.1,424.3L801.5,409.6M776.1,414.9L801.5,400.2M776.1,405.4L801.5,390.7M776.1,396.0L801.5,381.3" stroke="#b4b4b4" stroke-width="0.90" fill="none"/>
<path d="M801.5,466.2L827.1,480.9M801.5,456.7L827.1,471.4M801.5,447.3L827.1,462.0M801.5,437.9L827.1,452.6M801.5,428.5L827.1,443.2M801.5,419.0L827.1,433.7M801.5,409.6L827.1,424.3M801.5,400.2L827.1,414.9M801.5,390.7L827.1,405.4M801.5,381.3L827.1,396.0" stroke="#b4b4b4" stroke-width="0.90" fill="none" clip-path="url(#c3)"/>
<path d="M801.5,475.6V381.3" stroke="#b4b4b4" stroke-width="1.00" fill="none"/>
<path d="M784.5,485.4V391.1M809.9,480.5V393.2M792.9,480.6V386.3M818.4,485.3V405.1" stroke="#c46a3e" stroke-width="1.50" fill="none"/>
<polygon points="776.1,490.3 802.0,505.0 802.0,453.0 776.1,438.3" fill="#3fa9e0" />
<path d="M776.1,484.5L802.0,499.2M776.1,478.7L802.0,493.4M776.1,473.0L802.0,487.7M776.1,467.2L802.0,481.9M776.1,461.4L802.0,476.1M776.1,455.6L802.0,470.3M776.1,449.9L802.0,464.6M776.1,444.1L802.0,458.8" stroke="#96d8f4" stroke-width="1.2" fill="none" opacity="0.9"/>
<polygon points="802.0,505.0 827.1,490.3 827.1,468.3 802.0,483.0" fill="#63bdea" />
<path d="M802.0,499.5L827.1,484.8M802.0,494.0L827.1,479.3M802.0,488.5L827.1,473.8" stroke="#b5e3f7" stroke-width="1.2" fill="none" opacity="0.9"/>
<clipPath id="c4"><polygon points="776.1,490.3 802.0,505.0 802.0,432.0 776.1,396.0"/></clipPath>
<path d="M776.1,433.7L802.0,448.4M776.1,424.3L802.0,439.0M776.1,414.9L802.0,429.6M776.1,405.4L802.0,420.1M776.1,396.0L802.0,410.7" stroke="#ececec" stroke-width="1.20" fill="none" clip-path="url(#c4)"/>
<path d="M802.0,476.7L827.1,462.0M802.0,467.3L827.1,452.6M802.0,457.9L827.1,443.2M802.0,448.4L827.1,433.7M802.0,439.0L827.1,424.3M776.1,438.3V396.0M802.0,483.0V432.0M827.1,468.3V417.3M776.1,396.0L801.5,381.3L827.1,417.3L802.0,432.0ZM784.6,407.9L809.9,393.2M793.2,419.8L818.4,405.1" stroke="#ececec" stroke-width="1.20" fill="none"/>
<path d="M784.6,474.4V407.9M810.3,478.1V427.1M793.2,479.2V419.8M818.6,473.3V422.3" stroke="#c46a3e" stroke-width="1.70" fill="none"/>
<polygon points="814.0,492.0 824.0,498.0 824.0,480.0 814.0,474.0" fill="#2f9ad6" />
<polygon points="824.0,498.0 834.0,492.0 834.0,474.0 824.0,480.0" fill="#4fb2e6" />
<polygon points="814.0,474.0 824.0,480.0 834.0,474.0 824.0,468.0" fill="#7fcdf0" />
<polygon points="790.0,497.0 802.0,504.0 802.0,486.0 790.0,479.0" fill="#8d8f92" />
<rect x="812" y="418" width="6" height="55" fill="#e9e9e9"/>
<circle cx="866.5" cy="435" r="15" fill="#6f6f74"/>
<text class="sans" x="866.5" y="444.5" font-size="26" font-weight="bold" fill="#f2f2f2" text-anchor="middle">$</text>
<circle cx="842" cy="428" r="9" fill="#bfc0c3" opacity="0.8"/><path d="M838,424 a4,4 0 1 1 5,4 v3" stroke="#e9e9e9" stroke-width="2" fill="none"/>
<circle cx="843" cy="456" r="17" fill="#55565a"/><circle cx="843" cy="456" r="13.5" fill="#f1f1f3"/>
<circle cx="843" cy="456" r="13.5" fill="none" stroke="#b5b6ba" stroke-width="2" stroke-dasharray="1 2.53"/>
<path d="M843,456 V445 M843,456 L836,466" stroke="#333" stroke-width="1.6" stroke-linecap="round"/><circle cx="843" cy="456" r="1.6" fill="#333"/>
<polygon points="856.5,478.5 876.5,489.0 876.5,493.0 856.5,482.5" fill="#8e4423" />
<polygon points="876.5,489.0 921.8,460.6 921.8,464.5 876.5,493.0" fill="#a85530" />
<polygon points="856.5,478.5 901.8,451.0 921.8,460.6 876.5,489.0" fill="#d9855a" />
<path d="M860.5,480.6L905.8,452.9M864.5,482.7L909.8,454.8M868.5,484.8L913.8,456.8M872.5,486.9L917.8,458.7" stroke="#a8522c" stroke-width="1.3" fill="none"/>
<path d="M858.1,479.3L903.4,451.8M862.1,481.4L907.4,453.7M866.1,483.5L911.4,455.6M870.1,485.6L915.4,457.5M874.1,487.7L919.4,459.4" stroke="#f0b090" stroke-width="1" fill="none"/>
<path d="M652,548 C672,548 684,540 688,524 C691,510 700,503 713,502" stroke="#9a9a9a" stroke-width="9" fill="none" stroke-dasharray="1.2 2.2" opacity="0.75"/>
<path d="M652,548 C672,548 684,540 688,524 C691,510 700,503 713,502" stroke="#d3d4d6" stroke-width="3.5" fill="none"/>
<polygon points="567.1,533.3 602.0,553.0 636.1,533.3 601.5,512.6" fill="#f3f3f0" />
<polygon points="567.1,533.3 602.0,553.0 602.0,556.0 567.1,536.3" fill="#cfcfcb" />
<polygon points="602.0,553.0 636.1,533.3 636.1,536.3 602.0,556.0" fill="#dededb" />
<polygon points="579.1,533.3 602.0,548.0 624.1,533.3 601.5,517.6" fill="#3a3a3a" opacity="0.55"/>
<clipPath id="c5"><polygon points="601.5,517.6 627.1,532.3 627.1,459.3 601.5,423.3"/></clipPath>
<path d="M576.1,522.9L601.5,508.2M576.1,513.4L601.5,498.7M576.1,504.0L601.5,489.3M576.1,494.6L601.5,479.9M576.1,485.1L601.5,470.5M576.1,475.7L601.5,461.0M576.1,466.3L601.5,451.6M576.1,456.9L601.5,442.2M576.1,447.4L601.5,432.7M576.1,438.0L601.5,423.3" stroke="#b4b4b4" stroke-width="0.90" fill="none"/>
<path d="M601.5,508.2L627.1,522.9M601.5,498.7L627.1,513.4M601.5,489.3L627.1,504.0M601.5,479.9L627.1,494.6M601.5,470.5L627.1,485.1M601.5,461.0L627.1,475.7M601.5,451.6L627.1,466.3M601.5,442.2L627.1,456.9M601.5,432.7L627.1,447.4M601.5,423.3L627.1,438.0" stroke="#b4b4b4" stroke-width="0.90" fill="none" clip-path="url(#c5)"/>
<path d="M601.5,517.6V423.3" stroke="#b4b4b4" stroke-width="1.00" fill="none"/>
<path d="M584.5,527.4V433.1M609.9,522.5V435.2M592.9,522.6V428.3M618.4,527.3V447.1" stroke="#c46a3e" stroke-width="1.50" fill="none"/>
<polygon points="576.1,532.3 602.0,547.0 602.0,485.0 576.1,470.3" fill="#3fa9e0" />
<path d="M576.1,526.1L602.0,540.8M576.1,519.9L602.0,534.6M576.1,513.7L602.0,528.4M576.1,507.5L602.0,522.2M576.1,501.3L602.0,516.0M576.1,495.1L602.0,509.8M576.1,488.9L602.0,503.6M576.1,482.7L602.0,497.4M576.1,476.5L602.0,491.2" stroke="#96d8f4" stroke-width="1.2" fill="none" opacity="0.9"/>
<polygon points="602.0,547.0 627.1,532.3 627.1,474.3 602.0,489.0" fill="#63bdea" />
<path d="M602.0,540.6L627.1,525.9M602.0,534.1L627.1,519.4M602.0,527.7L627.1,513.0M602.0,521.2L627.1,506.5M602.0,514.8L627.1,500.1M602.0,508.3L627.1,493.6M602.0,501.9L627.1,487.2M602.0,495.4L627.1,480.7" stroke="#b5e3f7" stroke-width="1.2" fill="none" opacity="0.9"/>
<clipPath id="c6"><polygon points="576.1,532.3 602.0,547.0 602.0,474.0 576.1,438.0"/></clipPath>
<path d="M576.1,466.3L602.0,481.0M576.1,456.9L602.0,471.6M576.1,447.4L602.0,462.1M576.1,438.0L602.0,452.7" stroke="#ececec" stroke-width="1.20" fill="none" clip-path="url(#c6)"/>
<path d="M602.0,481.0L627.1,466.3M576.1,470.3V438.0M602.0,489.0V474.0M627.1,474.3V459.3M576.1,438.0L601.5,423.3L627.1,459.3L602.0,474.0ZM584.6,449.9L609.9,435.2M593.2,461.8L618.4,447.1" stroke="#ececec" stroke-width="1.20" fill="none"/>
<path d="M584.6,512.4V449.9M610.3,484.1V469.1M593.2,517.2V461.8M618.6,479.3V464.3" stroke="#c46a3e" stroke-width="1.70" fill="none"/>
<polygon points="576.1,532.3 602.0,547.0 602.0,531.0 576.1,516.3" fill="#2f93d0" />
<polygon points="584.1,514.3 602.0,525.0 602.0,513.0 584.1,502.3" fill="#9a9c9f" />
<ellipse cx="596" cy="458" rx="9" ry="4" fill="#8c8e94" stroke="#b9bbc0" stroke-width="1"/>
<path d="M587,458 v10 a9,4 0 0 0 18,0 v-10" fill="#a9abb0" opacity="0.8"/>
<path d="M568,497 l20,11 M568,515 l20,11 M574,480 v50 M583,486 v50" stroke="#c46a3e" stroke-width="2" fill="none"/>
<polygon points="563.0,540.0 578.0,532.0 606.0,548.0 591.0,556.0" fill="#f4f4f1" />
<polygon points="563.0,540.0 591.0,556.0 591.0,568.0 563.0,552.0" fill="#c9cdd2" />
<polygon points="591.0,556.0 606.0,548.0 606.0,560.0 591.0,568.0" fill="#aeb3b9" />
<path d="M567,546 l20,11.5 M570,555 v6 M577,559 v6 M584,563 v6 M596,560 v8" stroke="#8f959c" stroke-width="1.1" fill="none"/>
<path d="M566,562 l-3,6 M574,566 l-4,7 M590,570 v6" stroke="#b9b9b9" stroke-width="1" fill="none"/>
<path d="M651.5,487.0L638.5,536.0M657.5,487.0L670.5,536.0M653.5,487.0L647.3,532.0M655.5,487.0L661.7,532.0M651.5,487.0L659.4,494.0M657.5,487.0L649.6,494.0M649.6,494.0H659.4M649.6,494.0L661.2,501.0M659.4,494.0L647.8,501.0M647.8,501.0H661.2M647.8,501.0L663.1,508.0M661.2,501.0L645.9,508.0M645.9,508.0H663.1M645.9,508.0L664.9,515.0M663.1,508.0L644.1,515.0M644.1,515.0H664.9M642.2,522.0h5.0M666.8,522.0h-5.0M640.4,529.0h5.0M668.6,529.0h-5.0M638.5,536.0h5.0M670.5,536.0h-5.0" stroke="#8c8c84" stroke-width="1.30" fill="none"/>
<rect x="650.9" y="441.0" width="7.2" height="46.0" fill="#f0b024"/>
<rect x="655.1" y="441.0" width="3.0" height="46.0" fill="#b07c14" opacity="0.55"/>
<path d="M650.9,447.0l7.2,-3.0M650.9,452.0l7.2,-3.0M650.9,457.0l7.2,-3.0M650.9,462.0l7.2,-3.0M650.9,467.0l7.2,-3.0M650.9,472.0l7.2,-3.0M650.9,477.0l7.2,-3.0M650.9,482.0l7.2,-3.0" stroke="#b07c14" stroke-width="0.70" fill="none"/>
<path d="M617.0,469.0L672.0,444.0" stroke="#f0b024" stroke-width="5.0" stroke-linecap="round"/>
<path d="M617.0,467.8L672.0,442.8" stroke="#ffd23a" stroke-width="1.6"/>
<path d="M654.5,438.0L621.0,467.0M654.5,438.0L669.0,442.0M654.5,438.0L635.8,458.5" stroke="#b07c14" stroke-width="0.80" fill="none"/>
<rect x="652.5" y="436.0" width="4.0" height="6.0" fill="#f0b024"/>
<ellipse cx="672.0" cy="444.0" rx="6.5" ry="4.5" fill="#ffd23a" transform="rotate(-25 672.0 444.0)"/>
<ellipse cx="620.0" cy="469.0" rx="6.0" ry="4.0" fill="#ffd23a" transform="rotate(-25 617.0 469.0)"/>
<path d="M620.0,467.6V488.0L611.0,500.0M620.0,488.0L629.0,500.0M620.0,488.0L617.0,502.0" stroke="#4a4a4a" stroke-width="1.10" fill="none"/>
<rect x="605.0" y="500.0" width="30.0" height="3.0" fill="#d4805a"/>
<rect x="605.0" y="503.0" width="30.0" height="5.0" fill="#c4532a"/>
<polygon points="628.0,548.0 650.0,560.0 661.0,553.0 640.0,541.0" fill="#3d3d3d" />
<polygon points="634.0,538.0 650.0,546.0 660.0,540.0 660.0,550.0 650.0,557.0 634.0,549.0" fill="#f2b320" />
<polygon points="642.0,530.0 652.0,535.0 652.0,546.0 642.0,541.0" fill="#e0a018" />
<polygon points="642.0,530.0 650.0,526.0 660.0,531.0 652.0,535.0" fill="#ffd84a" />
<polygon points="652.0,535.0 660.0,531.0 660.0,541.0 652.0,546.0" fill="#c98a10" />
<polygon points="645.0,534.0 650.0,536.5 650.0,541.0 645.0,538.5" fill="#5b7da0" />
<path d="M640,538 L630,532 L622,538" stroke="#e8a81c" stroke-width="3" fill="none" stroke-linejoin="round"/>
<polygon points="617.0,536.0 627.0,534.0 629.0,542.0 620.0,544.0" fill="#d9981a" />
<ellipse cx="634" cy="565" rx="9" ry="3.2" fill="#c08a28" transform="rotate(18 634 565)"/>
<ellipse cx="630" cy="529" rx="5" ry="2" fill="#c08a28" transform="rotate(-20 630 529)"/>
<ellipse cx="402.0" cy="506.0" rx="7.0" ry="2.2" fill="#b5b6b8" opacity="0.7"/>
<rect x="400.9" y="497.0" width="2.2" height="9.0" fill="#b98550"/>
<circle cx="402.0" cy="493.0" r="7.5" fill="#8ec63f"/>
<circle cx="398.0" cy="496.0" r="4.5" fill="#84bb38"/><circle cx="406.5" cy="495.0" r="4.5" fill="#97cf48"/>
<circle cx="400.0" cy="490.0" r="3.5" fill="#a2d655" opacity="0.8"/>
<ellipse cx="416.0" cy="514.0" rx="7.0" ry="2.2" fill="#b5b6b8" opacity="0.7"/>
<rect x="414.9" y="505.0" width="2.2" height="9.0" fill="#b98550"/>
<circle cx="416.0" cy="501.0" r="7.5" fill="#8ec63f"/>
<circle cx="412.0" cy="504.0" r="4.5" fill="#84bb38"/><circle cx="420.5" cy="503.0" r="4.5" fill="#97cf48"/>
<circle cx="414.0" cy="498.0" r="3.5" fill="#a2d655" opacity="0.8"/>
<ellipse cx="429.0" cy="520.0" rx="7.0" ry="2.2" fill="#b5b6b8" opacity="0.7"/>
<rect x="427.9" y="511.0" width="2.2" height="9.0" fill="#b98550"/>
<circle cx="429.0" cy="507.0" r="7.5" fill="#8ec63f"/>
<circle cx="425.0" cy="510.0" r="4.5" fill="#84bb38"/><circle cx="433.5" cy="509.0" r="4.5" fill="#97cf48"/>
<circle cx="427.0" cy="504.0" r="3.5" fill="#a2d655" opacity="0.8"/>
<polygon points="338.3,425.0 364.2,461.0 364.2,534.0 338.3,519.3" fill="#2f9fdd" />
<polygon points="364.2,461.0 389.3,446.3 389.3,519.3 364.2,534.0" fill="#3dabe8" />
<polygon points="345.0,521.0 350.7,529.5 350.7,473.5 345.0,467.0" fill="#1f7fc0" />
<clipPath id="c7"><polygon points="338.3,425.0 364.2,461.0 364.2,534.0 338.3,519.3"/></clipPath>
<path d="M338.3,513.8L364.2,528.5M338.3,508.4L364.2,523.1M338.3,502.9L364.2,517.6M338.3,497.5L364.2,512.2M338.3,492.0L364.2,506.7M338.3,486.5L364.2,501.2M338.3,481.1L364.2,495.8M338.3,475.6L364.2,490.3M338.3,470.1L364.2,484.8M338.3,464.7L364.2,479.4M338.3,459.2L364.2,473.9M338.3,453.8L364.2,468.5M338.3,448.3L364.2,463.0M338.3,442.8L364.2,457.5M338.3,437.4L364.2,452.1M338.3,431.9L364.2,446.6M338.3,426.4L364.2,441.1M338.3,421.0L364.2,435.7M338.3,415.5L364.2,430.2M338.3,410.1L364.2,424.8" stroke="#8ad6f6" stroke-width="1.5" fill="none" opacity="0.95" clip-path="url(#c7)"/>
<path d="M364.2,528.8L389.3,514.1M364.2,523.6L389.3,508.9M364.2,518.4L389.3,503.7M364.2,513.1L389.3,498.4M364.2,507.9L389.3,493.2M364.2,502.7L389.3,488.0M364.2,497.5L389.3,482.8M364.2,492.3L389.3,477.6M364.2,487.1L389.3,472.4M364.2,481.9L389.3,467.2M364.2,476.6L389.3,461.9M364.2,471.4L389.3,456.7M364.2,466.2L389.3,451.5" stroke="#9bdcf7" stroke-width="1.5" fill="none" opacity="0.95"/>
<polygon points="338.3,425.0 363.7,410.3 389.3,446.3 364.2,461.0" fill="#c9ccd0" />
<g transform="matrix(25.40,-14.70,25.90,36.00,338.30,425.00)">
<rect x="0.07" y="0.04" width="0.86" height="0.8" fill="#9aa3ab"/>
<path d="M0.12,0.3 A0.38,0.22 0 0 1 0.88,0.3 Z" fill="#d9ecf6"/>
<path d="M0.14,0.3 A0.42,0.12 0 0 1 0.86,0.3 L0.86,0.26 A0.42,0.12 0 0 0 0.14,0.26 Z" fill="#3a9fe0"/>
<path d="M0.12,0.56 A0.38,0.22 0 0 1 0.88,0.56 Z" fill="#d9ecf6"/>
<path d="M0.14,0.56 A0.42,0.12 0 0 1 0.86,0.56 L0.86,0.52 A0.42,0.12 0 0 0 0.14,0.52 Z" fill="#3a9fe0"/>
</g>
<path d="M371.0,449.0 v74.0 a6.5,3.8 0 0 0 13.0,0 v-74.0Z" fill="#eef1f3"/>
<path d="M371.0,454.6 a6.5,3.8 0 0 0 13.0,0M371.0,460.2 a6.5,3.8 0 0 0 13.0,0M371.0,465.8 a6.5,3.8 0 0 0 13.0,0M371.0,471.4 a6.5,3.8 0 0 0 13.0,0M371.0,477.0 a6.5,3.8 0 0 0 13.0,0M371.0,482.6 a6.5,3.8 0 0 0 13.0,0M371.0,488.2 a6.5,3.8 0 0 0 13.0,0M371.0,493.8 a6.5,3.8 0 0 0 13.0,0M371.0,499.4 a6.5,3.8 0 0 0 13.0,0M371.0,505.0 a6.5,3.8 0 0 0 13.0,0M371.0,510.6 a6.5,3.8 0 0 0 13.0,0M371.0,516.2 a6.5,3.8 0 0 0 13.0,0M371.0,521.8 a6.5,3.8 0 0 0 13.0,0" stroke="#8d979f" stroke-width="1.5" fill="none"/>
<rect x="381.8" y="449.0" width="2.2" height="74.0" fill="#7d868e" opacity="0.6"/>
<ellipse cx="377.5" cy="448.0" rx="9.0" ry="5.6" fill="#cfe9f7"/>
<polygon points="327.8,521.5 336.0,526.0 336.0,464.0 327.8,459.5" fill="#35a3e0" />
<polygon points="336.0,526.0 345.0,521.0 345.0,459.0 336.0,464.0" fill="#54b5ea" />
<polygon points="327.8,459.5 336.0,464.0 345.0,459.0 336.8,454.5" fill="#b3b6ba" />
<polygon points="350.7,529.5 364.0,537.0 364.0,481.0 350.7,473.5" fill="#35a3e0" />
<polygon points="364.0,537.0 380.0,528.0 380.0,472.0 364.0,481.0" fill="#54b5ea" />
<polygon points="350.7,473.5 364.0,481.0 380.0,472.0 366.7,464.5" fill="#b3b6ba" />
<path d="M327.8,516.3L336.0,520.8M327.8,511.2L336.0,515.7M327.8,506.0L336.0,510.5M327.8,500.8L336.0,505.3M327.8,495.7L336.0,500.2M327.8,490.5L336.0,495.0M327.8,485.3L336.0,489.8M327.8,480.2L336.0,484.7M327.8,475.0L336.0,479.5M327.8,469.8L336.0,474.3M327.8,464.7L336.0,469.2" stroke="#8ad6f6" stroke-width="1.5" fill="none" opacity="0.95"/>
<path d="M350.7,523.9L364.0,531.4M350.7,518.3L364.0,525.8M350.7,512.7L364.0,520.2M350.7,507.1L364.0,514.6M350.7,501.5L364.0,509.0M350.7,495.9L364.0,503.4M350.7,490.3L364.0,497.8M350.7,484.7L364.0,492.2M350.7,479.1L364.0,486.6" stroke="#8ad6f6" stroke-width="1.5" fill="none" opacity="0.95"/>
<path d="M336.0,520.8L345.0,515.8M336.0,515.7L345.0,510.7M336.0,510.5L345.0,505.5M336.0,505.3L345.0,500.3M336.0,500.2L345.0,495.2M336.0,495.0L345.0,490.0M336.0,489.8L345.0,484.8M336.0,484.7L345.0,479.7M336.0,479.5L345.0,474.5M336.0,474.3L345.0,469.3M336.0,469.2L345.0,464.2" stroke="#9bdcf7" stroke-width="1.5" fill="none" opacity="0.95"/>
<path d="M364.0,531.4L380.0,522.4M364.0,525.8L380.0,516.8M364.0,520.2L380.0,511.2M364.0,514.6L380.0,505.6M364.0,509.0L380.0,500.0M364.0,503.4L380.0,494.4M364.0,497.8L380.0,488.8M364.0,492.2L380.0,483.2M364.0,486.6L380.0,477.6" stroke="#9bdcf7" stroke-width="1.5" fill="none" opacity="0.95"/>
<path d="M367.0,535.0 q8,2 14,-8" stroke="#d0d5d9" stroke-width="2.5" fill="none"/>
<ellipse cx="309.0" cy="538.0" rx="7.0" ry="2.2" fill="#b5b6b8" opacity="0.7"/>
<rect x="307.9" y="529.0" width="2.2" height="9.0" fill="#b98550"/>
<circle cx="309.0" cy="525.0" r="7.5" fill="#8ec63f"/>
<circle cx="305.0" cy="528.0" r="4.5" fill="#84bb38"/><circle cx="313.5" cy="527.0" r="4.5" fill="#97cf48"/>
<circle cx="307.0" cy="522.0" r="3.5" fill="#a2d655" opacity="0.8"/>
<ellipse cx="324.0" cy="546.0" rx="7.0" ry="2.2" fill="#b5b6b8" opacity="0.7"/>
<rect x="322.9" y="537.0" width="2.2" height="9.0" fill="#b98550"/>
<circle cx="324.0" cy="533.0" r="7.5" fill="#8ec63f"/>
<circle cx="320.0" cy="536.0" r="4.5" fill="#84bb38"/><circle cx="328.5" cy="535.0" r="4.5" fill="#97cf48"/>
<circle cx="322.0" cy="530.0" r="3.5" fill="#a2d655" opacity="0.8"/>
<ellipse cx="345.0" cy="561.0" rx="7.0" ry="2.2" fill="#b5b6b8" opacity="0.7"/>
<rect x="343.9" y="552.0" width="2.2" height="9.0" fill="#b98550"/>
<circle cx="345.0" cy="548.0" r="7.5" fill="#8ec63f"/>
<circle cx="341.0" cy="551.0" r="4.5" fill="#84bb38"/><circle cx="349.5" cy="550.0" r="4.5" fill="#97cf48"/>
<circle cx="343.0" cy="545.0" r="3.5" fill="#a2d655" opacity="0.8"/>
<ellipse cx="358.0" cy="567.0" rx="7.0" ry="2.2" fill="#b5b6b8" opacity="0.7"/>
<rect x="356.9" y="558.0" width="2.2" height="9.0" fill="#b98550"/>
<circle cx="358.0" cy="554.0" r="7.5" fill="#8ec63f"/>
<circle cx="354.0" cy="557.0" r="4.5" fill="#84bb38"/><circle cx="362.5" cy="556.0" r="4.5" fill="#97cf48"/>
<circle cx="356.0" cy="551.0" r="3.5" fill="#a2d655" opacity="0.8"/>
<ellipse cx="372.0" cy="572.0" rx="7.0" ry="2.2" fill="#b5b6b8" opacity="0.7"/>
<rect x="370.9" y="563.0" width="2.2" height="9.0" fill="#b98550"/>
<circle cx="372.0" cy="559.0" r="7.5" fill="#8ec63f"/>
<circle cx="368.0" cy="562.0" r="4.5" fill="#84bb38"/><circle cx="376.5" cy="561.0" r="4.5" fill="#97cf48"/>
<circle cx="370.0" cy="556.0" r="3.5" fill="#a2d655" opacity="0.8"/>
<ellipse cx="385.0" cy="565.0" rx="7.0" ry="2.2" fill="#b5b6b8" opacity="0.7"/>
<rect x="383.9" y="556.0" width="2.2" height="9.0" fill="#b98550"/>
<circle cx="385.0" cy="552.0" r="7.5" fill="#8ec63f"/>
<circle cx="381.0" cy="555.0" r="4.5" fill="#84bb38"/><circle cx="389.5" cy="554.0" r="4.5" fill="#97cf48"/>
<circle cx="383.0" cy="549.0" r="3.5" fill="#a2d655" opacity="0.8"/>
<ellipse cx="384" cy="535" rx="7" ry="2.5" fill="#7fb83a" transform="rotate(-28 384 535)"/>
<ellipse cx="401" cy="541" rx="5" ry="2.2" fill="#7fb83a"/>
<ellipse cx="407" cy="533" rx="13" ry="6.5" fill="#9fd0ea"/><ellipse cx="407" cy="532" rx="10.5" ry="5" fill="#d2ecf8"/>
<ellipse cx="407" cy="529" rx="5" ry="2.4" fill="#a9d6ee"/><path d="M407,529 v-11 M403,528 q-1,-8 4,-10 q5,2 4,10" stroke="#f4fbff" stroke-width="1.4" fill="none"/><circle cx="407" cy="522" r="1.4" fill="#5a6a78"/>
<polygon points="158.0,369.0 179.0,381.0 179.0,443.0 158.0,431.0" fill="#55585c" opacity="0.55"/>
<polygon points="179.0,381.0 197.0,372.0 197.0,434.0 179.0,443.0" fill="#6a6d72" opacity="0.5"/>
<path d="M158.0,369.0 L179.0,381.0 L197.0,372.0M158.0,379.3 L179.0,391.3 L197.0,382.3M158.0,389.7 L179.0,401.7 L197.0,392.7M158.0,400.0 L179.0,412.0 L197.0,403.0M158.0,410.3 L179.0,422.3 L197.0,413.3M158.0,420.7 L179.0,432.7 L197.0,423.7M158.0,431.0 L179.0,443.0 L197.0,434.0M158,369V431M179,381V443M197,372V434M164.9,373.0V435.0M184.9,378.0V440.0M171.9,376.9V438.9M190.9,375.1V437.1" stroke="#c9c9c9" stroke-width="0.8" fill="none"/>
<polygon points="158.0,369.0 176.0,360.0 197.0,372.0 179.0,381.0" fill="#2a2a2a" stroke="#d9d9d9" stroke-width="1.1" stroke-linejoin="round" />
<path d="M167.0,364.5L188.0,376.5M168.5,375.0L186.5,366.0M163.2,372.0l8,-4 l4,2.5M184.4,378.3l-6,-3.5 l5,-2.5" stroke="#d9d9d9" stroke-width="1" fill="none"/>
<polygon points="122.6,369.5 147.2,399.4 147.2,460.0 122.6,447.8" fill="#2f9fdd" />
<polygon points="147.2,399.4 171.0,387.2 171.0,447.8 147.2,460.0" fill="#3dabe8" />
<polygon points="128.9,449.2 134.4,456.3 134.4,409.8 128.9,404.4" fill="#1f7fc0" />
<clipPath id="c8"><polygon points="122.6,369.5 147.2,399.4 147.2,460.0 122.6,447.8"/></clipPath>
<path d="M122.6,443.3L147.2,455.5M122.6,438.7L147.2,450.9M122.6,434.2L147.2,446.4M122.6,429.7L147.2,441.9M122.6,425.1L147.2,437.3M122.6,420.6L147.2,432.8M122.6,416.1L147.2,428.3M122.6,411.5L147.2,423.7M122.6,407.0L147.2,419.2M122.6,402.5L147.2,414.7M122.6,397.9L147.2,410.1M122.6,393.4L147.2,405.6M122.6,388.9L147.2,401.1M122.6,384.3L147.2,396.5M122.6,379.8L147.2,392.0M122.6,375.3L147.2,387.5M122.6,370.7L147.2,382.9M122.6,366.2L147.2,378.4M122.6,361.7L147.2,373.9M122.6,357.1L147.2,369.3" stroke="#8ad6f6" stroke-width="1.4249999999999998" fill="none" opacity="0.95" clip-path="url(#c8)"/>
<path d="M147.2,455.7L171.0,443.5M147.2,451.4L171.0,439.2M147.2,447.0L171.0,434.8M147.2,442.7L171.0,430.5M147.2,438.4L171.0,426.2M147.2,434.0L171.0,421.8M147.2,429.7L171.0,417.5M147.2,425.4L171.0,413.2M147.2,421.1L171.0,408.9M147.2,416.7L171.0,404.5M147.2,412.4L171.0,400.2M147.2,408.1L171.0,395.9M147.2,403.7L171.0,391.5" stroke="#9bdcf7" stroke-width="1.4249999999999998" fill="none" opacity="0.95"/>
<polygon points="122.6,369.5 146.7,357.3 171.0,387.2 147.2,399.4" fill="#c9ccd0" />
<g transform="matrix(24.13,-12.20,24.60,29.88,122.59,369.54)">
<rect x="0.07" y="0.04" width="0.86" height="0.8" fill="#9aa3ab"/>
<path d="M0.12,0.3 A0.38,0.22 0 0 1 0.88,0.3 Z" fill="#d9ecf6"/>
<path d="M0.14,0.3 A0.42,0.12 0 0 1 0.86,0.3 L0.86,0.26 A0.42,0.12 0 0 0 0.14,0.26 Z" fill="#3a9fe0"/>
<path d="M0.12,0.56 A0.38,0.22 0 0 1 0.88,0.56 Z" fill="#d9ecf6"/>
<path d="M0.14,0.56 A0.42,0.12 0 0 1 0.86,0.56 L0.86,0.52 A0.42,0.12 0 0 0 0.14,0.52 Z" fill="#3a9fe0"/>
</g>
<path d="M153.6,389.5 v61.4 a6.2,3.6 0 0 0 12.3,0 v-61.4Z" fill="#eef1f3"/>
<path d="M153.6,394.8 a6.2,3.6 0 0 0 12.3,0M153.6,400.1 a6.2,3.6 0 0 0 12.3,0M153.6,405.4 a6.2,3.6 0 0 0 12.3,0M153.6,410.7 a6.2,3.6 0 0 0 12.3,0M153.6,416.1 a6.2,3.6 0 0 0 12.3,0M153.6,421.4 a6.2,3.6 0 0 0 12.3,0M153.6,426.7 a6.2,3.6 0 0 0 12.3,0M153.6,432.0 a6.2,3.6 0 0 0 12.3,0M153.6,437.3 a6.2,3.6 0 0 0 12.3,0M153.6,442.7 a6.2,3.6 0 0 0 12.3,0M153.6,448.0 a6.2,3.6 0 0 0 12.3,0M153.6,453.3 a6.2,3.6 0 0 0 12.3,0M153.6,458.6 a6.2,3.6 0 0 0 12.3,0" stroke="#8d979f" stroke-width="1.4" fill="none"/>
<rect x="163.9" y="389.5" width="2.1" height="61.4" fill="#7d868e" opacity="0.6"/>
<ellipse cx="159.8" cy="388.5" rx="8.5" ry="5.3" fill="#cfe9f7"/>
<polygon points="112.6,449.6 120.4,453.4 120.4,401.9 112.6,398.2" fill="#35a3e0" />
<polygon points="120.4,453.4 128.9,449.2 128.9,397.8 120.4,401.9" fill="#54b5ea" />
<polygon points="112.6,398.2 120.4,401.9 128.9,397.8 121.2,394.0" fill="#b3b6ba" />
<polygon points="134.4,456.3 147.0,462.5 147.0,416.0 134.4,409.8" fill="#35a3e0" />
<polygon points="147.0,462.5 162.2,455.0 162.2,408.6 147.0,416.0" fill="#54b5ea" />
<polygon points="134.4,409.8 147.0,416.0 162.2,408.6 149.6,402.3" fill="#b3b6ba" />
<path d="M112.6,445.3L120.4,449.1M112.6,441.1L120.4,444.8M112.6,436.8L120.4,440.5M112.6,432.5L120.4,436.2M112.6,428.2L120.4,431.9M112.6,423.9L120.4,427.6M112.6,419.6L120.4,423.4M112.6,415.3L120.4,419.1M112.6,411.0L120.4,414.8M112.6,406.8L120.4,410.5M112.6,402.5L120.4,406.2" stroke="#8ad6f6" stroke-width="1.4249999999999998" fill="none" opacity="0.95"/>
<path d="M134.4,451.6L147.0,457.9M134.4,447.0L147.0,453.2M134.4,442.3L147.0,448.6M134.4,437.7L147.0,443.9M134.4,433.0L147.0,439.3M134.4,428.4L147.0,434.6M134.4,423.7L147.0,430.0M134.4,419.1L147.0,425.3M134.4,414.4L147.0,420.7" stroke="#8ad6f6" stroke-width="1.4249999999999998" fill="none" opacity="0.95"/>
<path d="M120.4,449.1L128.9,444.9M120.4,444.8L128.9,440.6M120.4,440.5L128.9,436.4M120.4,436.2L128.9,432.1M120.4,431.9L128.9,427.8M120.4,427.6L128.9,423.5M120.4,423.4L128.9,419.2M120.4,419.1L128.9,414.9M120.4,414.8L128.9,410.6M120.4,410.5L128.9,406.3M120.4,406.2L128.9,402.0" stroke="#9bdcf7" stroke-width="1.4249999999999998" fill="none" opacity="0.95"/>
<path d="M147.0,457.9L162.2,450.4M147.0,453.2L162.2,445.7M147.0,448.6L162.2,441.1M147.0,443.9L162.2,436.4M147.0,439.3L162.2,431.8M147.0,434.6L162.2,427.1M147.0,430.0L162.2,422.5M147.0,425.3L162.2,417.8M147.0,420.7L162.2,413.2" stroke="#9bdcf7" stroke-width="1.4249999999999998" fill="none" opacity="0.95"/>
<path d="M230.7,427.0L218.3,470.0M236.3,427.0L248.7,470.0M232.6,427.0L226.7,466.2M234.4,427.0L240.3,466.2M230.7,427.0L238.1,433.1M236.3,427.0L228.9,433.1M228.9,433.1H238.1M228.9,433.1L239.9,439.3M238.1,433.1L227.1,439.3M227.1,439.3H239.9M227.1,439.3L241.6,445.4M239.9,439.3L225.4,445.4M225.4,445.4H241.6M225.4,445.4L243.4,451.6M241.6,445.4L223.6,451.6M223.6,451.6H243.4M221.8,457.7h4.8M245.2,457.7h-4.8M220.1,463.9h4.8M246.9,463.9h-4.8M218.3,470.0h4.8M248.7,470.0h-4.8" stroke="#8c8c84" stroke-width="1.23" fill="none"/>
<rect x="230.1" y="385.0" width="6.8" height="42.0" fill="#f0b024"/>
<rect x="234.1" y="385.0" width="2.8" height="42.0" fill="#b07c14" opacity="0.55"/>
<path d="M230.1,390.7l6.8,-2.8M230.1,395.4l6.8,-2.8M230.1,400.2l6.8,-2.8M230.1,404.9l6.8,-2.8M230.1,409.7l6.8,-2.8M230.1,414.4l6.8,-2.8M230.1,419.2l6.8,-2.8" stroke="#b07c14" stroke-width="0.66" fill="none"/>
<path d="M198.0,414.0L249.0,391.0" stroke="#f0b024" stroke-width="4.8" stroke-linecap="round"/>
<path d="M198.0,412.9L249.0,389.9" stroke="#ffd23a" stroke-width="1.5"/>
<path d="M233.5,382.1L201.8,412.1M233.5,382.1L246.2,389.1M233.5,382.1L215.8,404.1" stroke="#b07c14" stroke-width="0.76" fill="none"/>
<rect x="231.6" y="380.2" width="3.8" height="5.7" fill="#f0b024"/>
<ellipse cx="249.0" cy="391.0" rx="6.2" ry="4.3" fill="#ffd23a" transform="rotate(-25 249.0 391.0)"/>
<ellipse cx="200.8" cy="414.0" rx="5.7" ry="3.8" fill="#ffd23a" transform="rotate(-25 198.0 414.0)"/>
<path d="M201.5,412.4V430.1L192.9,441.5M201.5,430.1L210.1,441.5M201.5,430.1L198.7,443.4" stroke="#4a4a4a" stroke-width="1.04" fill="none"/>
<rect x="187.2" y="441.5" width="28.5" height="2.8" fill="#d4805a"/>
<rect x="187.2" y="444.4" width="28.5" height="4.8" fill="#c4532a"/>
<rect x="190" y="471" width="9" height="3" fill="#d4805a"/><rect x="190" y="474" width="9" height="6" fill="#c4532a"/>
<rect x="190" y="485" width="26" height="3" fill="#d4805a"/><rect x="190" y="488" width="26" height="6" fill="#c4532a"/>
<ellipse cx="112" cy="655" rx="55" ry="22" fill="#3a3c3f" opacity="0.55"/>
<rect x="104.5" y="658.3" width="6.9" height="2.2" fill="#c5d0da" transform="rotate(-32 104.5 658.3)"/><rect x="69.4" y="647.7" width="4.3" height="2.3" fill="#9aa7b5" transform="rotate(-34 69.4 647.7)"/><rect x="138.2" y="659.1" width="8.0" height="2.4" fill="#4a5058" transform="rotate(10 138.2 659.1)"/><rect x="103.5" y="649.9" width="6.5" height="2.1" fill="#4a5058" transform="rotate(-36 103.5 649.9)"/><rect x="127.6" y="643.9" width="3.9" height="2.4" fill="#2a2d31" transform="rotate(5 127.6 643.9)"/><rect x="106.5" y="646.9" width="6.4" height="2.6" fill="#aeb6c0" transform="rotate(4 106.5 646.9)"/><rect x="120.8" y="653.6" width="4.2" height="4.0" fill="#9aa7b5" transform="rotate(22 120.8 653.6)"/><rect x="63.6" y="662.5" width="5.2" height="2.7" fill="#7d8894" transform="rotate(16 63.6 662.5)"/><rect x="113.4" y="667.8" width="6.2" height="4.6" fill="#5f6a76" transform="rotate(-17 113.4 667.8)"/><rect x="126.3" y="651.2" width="5.5" height="4.3" fill="#7d8894" transform="rotate(35 126.3 651.2)"/><rect x="67.2" y="668.2" width="3.5" height="3.7" fill="#e8ecef" transform="rotate(-13 67.2 668.2)"/><rect x="91.9" y="669.7" width="7.8" height="2.2" fill="#aeb6c0" transform="rotate(36 91.9 669.7)"/><rect x="71.9" y="660.8" width="3.4" height="4.1" fill="#eef1f3" transform="rotate(39 71.9 660.8)"/><rect x="122.7" y="642.7" width="5.3" height="4.0" fill="#d8dde3" transform="rotate(35 122.7 642.7)"/><rect x="88.2" y="670.9" width="6.0" height="2.7" fill="#2a2d31" transform="rotate(-30 88.2 670.9)"/><rect x="112.4" y="664.5" width="8.2" height="2.2" fill="#5f6a76" transform="rotate(-8 112.4 664.5)"/><rect x="109.3" y="658.6" width="5.6" height="3.7" fill="#9aa7b5" transform="rotate(39 109.3 658.6)"/><rect x="100.1" y="640.8" width="4.4" height="2.2" fill="#7d8894" transform="rotate(-21 100.1 640.8)"/><rect x="115.5" y="666.2" width="6.5" height="2.8" fill="#d8dde3" transform="rotate(-28 115.5 666.2)"/><rect x="74.3" y="654.5" width="4.9" height="2.4" fill="#c5d0da" transform="rotate(36 74.3 654.5)"/><rect x="87.6" y="642.8" width="5.7" height="4.6" fill="#c5d0da" transform="rotate(-9 87.6 642.8)"/><rect x="101.3" y="655.3" width="6.8" height="2.2" fill="#aeb6c0" transform="rotate(39 101.3 655.3)"/><rect x="99.1" y="660.1" width="6.6" height="2.3" fill="#eef1f3" transform="rotate(-28 99.1 660.1)"/><rect x="134.8" y="659.1" width="3.2" height="4.6" fill="#eef1f3" transform="rotate(-10 134.8 659.1)"/><rect x="78.4" y="642.0" width="6.6" height="3.4" fill="#aeb6c0" transform="rotate(28 78.4 642.0)"/><rect x="144.9" y="651.4" width="5.9" height="2.3" fill="#aeb6c0" transform="rotate(20 144.9 651.4)"/><rect x="110.0" y="637.9" width="7.2" height="3.5" fill="#4a5058" transform="rotate(36 110.0 637.9)"/><rect x="95.8" y="656.8" width="6.3" height="2.1" fill="#c5d0da" transform="rotate(-16 95.8 656.8)"/><rect x="104.3" y="647.9" width="8.1" height="3.6" fill="#7d8894" transform="rotate(-12 104.3 647.9)"/><rect x="118.1" y="667.0" width="6.0" height="3.9" fill="#eef1f3" transform="rotate(25 118.1 667.0)"/><rect x="159.0" y="650.1" width="7.8" height="4.5" fill="#4a5058" transform="rotate(-24 159.0 650.1)"/><rect x="69.0" y="658.8" width="8.9" height="4.4" fill="#5f6a76" transform="rotate(-19 69.0 658.8)"/><rect x="94.1" y="638.0" width="5.7" height="4.8" fill="#e8ecef" transform="rotate(36 94.1 638.0)"/><rect x="98.2" y="664.7" width="4.4" height="2.6" fill="#4a5058" transform="rotate(-1 98.2 664.7)"/><rect x="150.5" y="650.5" width="3.0" height="4.7" fill="#e8ecef" transform="rotate(24 150.5 650.5)"/><rect x="146.9" y="660.7" width="8.5" height="4.3" fill="#4a5058" transform="rotate(-2 146.9 660.7)"/><rect x="131.6" y="669.2" width="5.0" height="4.4" fill="#9aa7b5" transform="rotate(-3 131.6 669.2)"/><rect x="111.5" y="647.0" width="4.0" height="5.0" fill="#d8dde3" transform="rotate(-28 111.5 647.0)"/><rect x="149.8" y="641.1" width="3.9" height="4.5" fill="#5f6a76" transform="rotate(13 149.8 641.1)"/><rect x="90.6" y="670.4" width="3.8" height="2.0" fill="#aeb6c0" transform="rotate(2 90.6 670.4)"/><rect x="140.8" y="646.6" width="8.2" height="4.5" fill="#4a5058" transform="rotate(-38 140.8 646.6)"/><rect x="120.0" y="666.1" width="7.6" height="3.0" fill="#c5d0da" transform="rotate(-6 120.0 666.1)"/><rect x="145.4" y="667.3" width="5.1" height="3.4" fill="#eef1f3" transform="rotate(25 145.4 667.3)"/><rect x="65.9" y="655.9" width="8.3" height="2.4" fill="#7d8894" transform="rotate(2 65.9 655.9)"/><rect x="143.6" y="653.6" width="4.1" height="2.0" fill="#7d8894" transform="rotate(-26 143.6 653.6)"/><rect x="69.7" y="661.0" width="6.3" height="3.0" fill="#c5d0da" transform="rotate(2 69.7 661.0)"/><rect x="67.6" y="660.1" width="8.3" height="2.2" fill="#4a5058" transform="rotate(-18 67.6 660.1)"/><rect x="116.8" y="637.5" width="6.4" height="4.3" fill="#aeb6c0" transform="rotate(-5 116.8 637.5)"/><rect x="85.7" y="648.5" width="6.1" height="4.1" fill="#5f6a76" transform="rotate(1 85.7 648.5)"/><rect x="124.2" y="638.3" width="4.5" height="3.6" fill="#2a2d31" transform="rotate(34 124.2 638.3)"/>
<polygon points="85.0,640.0 85.0,570.0 110.0,584.0 135.0,570.0 135.0,640.0 110.0,656.0" fill="#2b2b2b" opacity="0.75"/>
<rect x="104.2" y="640.0" width="11.4" height="2.1" fill="#c9ccd0" transform="rotate(28 104.2 640.0)"/>
<rect x="119.4" y="600.7" width="6.9" height="3.2" fill="#3f4449" transform="rotate(-28 119.4 600.7)"/>
<rect x="125.2" y="627.2" width="5.9" height="3.8" fill="#5a6068" transform="rotate(0 125.2 627.2)"/>
<rect x="89.0" y="585.2" width="7.9" height="2.9" fill="#d9d6c8" transform="rotate(28 89.0 585.2)"/>
<rect x="105.5" y="607.6" width="5.0" height="2.7" fill="#d9d6c8" transform="rotate(-28 105.5 607.6)"/>
<rect x="123.2" y="592.2" width="11.4" height="3.4" fill="#3f4449" transform="rotate(-28 123.2 592.2)"/>
<rect x="98.6" y="588.9" width="7.1" height="3.7" fill="#c9ccd0" transform="rotate(-28 98.6 588.9)"/>
<rect x="126.9" y="630.3" width="10.8" height="2.6" fill="#c9ccd0" transform="rotate(-28 126.9 630.3)"/>
<rect x="114.7" y="593.9" width="11.8" height="2.9" fill="#d9d6c8" transform="rotate(28 114.7 593.9)"/>
<rect x="120.5" y="632.1" width="7.4" height="2.1" fill="#3f4449" transform="rotate(0 120.5 632.1)"/>
<rect x="126.4" y="641.4" width="8.4" height="3.4" fill="#c9ccd0" transform="rotate(0 126.4 641.4)"/>
<rect x="106.9" y="630.2" width="9.2" height="2.6" fill="#c9ccd0" transform="rotate(28 106.9 630.2)"/>
<rect x="95.2" y="609.9" width="6.3" height="2.5" fill="#3f4449" transform="rotate(-28 95.2 609.9)"/>
<rect x="105.1" y="599.3" width="7.9" height="3.3" fill="#c9ccd0" transform="rotate(28 105.1 599.3)"/>
<rect x="115.0" y="589.5" width="8.0" height="3.6" fill="#e3e3df" transform="rotate(28 115.0 589.5)"/>
<rect x="107.0" y="605.0" width="10.1" height="2.9" fill="#e3e3df" transform="rotate(28 107.0 605.0)"/>
<rect x="98.3" y="595.5" width="8.4" height="2.6" fill="#d9d6c8" transform="rotate(-28 98.3 595.5)"/>
<rect x="122.0" y="597.1" width="4.2" height="3.7" fill="#5a6068" transform="rotate(0 122.0 597.1)"/>
<rect x="119.3" y="597.6" width="6.2" height="3.5" fill="#5a6068" transform="rotate(-28 119.3 597.6)"/>
<rect x="112.1" y="606.6" width="9.5" height="3.1" fill="#8f979f" transform="rotate(-28 112.1 606.6)"/>
<rect x="99.4" y="599.9" width="7.2" height="2.9" fill="#d9d6c8" transform="rotate(-28 99.4 599.9)"/>
<rect x="93.3" y="610.5" width="10.1" height="3.6" fill="#e3e3df" transform="rotate(0 93.3 610.5)"/>
<rect x="88.0" y="608.5" width="11.4" height="3.7" fill="#5a6068" transform="rotate(0 88.0 608.5)"/>
<rect x="98.4" y="591.5" width="5.2" height="3.0" fill="#3f4449" transform="rotate(-28 98.4 591.5)"/>
<rect x="127.5" y="628.3" width="9.2" height="3.5" fill="#5a6068" transform="rotate(-28 127.5 628.3)"/>
<rect x="111.2" y="587.4" width="10.3" height="2.5" fill="#c9ccd0" transform="rotate(-28 111.2 587.4)"/>
<rect x="128.4" y="622.6" width="8.2" height="2.9" fill="#c9ccd0" transform="rotate(-28 128.4 622.6)"/>
<rect x="91.0" y="616.5" width="8.7" height="2.8" fill="#8f979f" transform="rotate(-28 91.0 616.5)"/>
<clipPath id="c9"><polygon points="109.5,626.5 134.3,640.7 134.3,569.9 109.5,535.0"/></clipPath>
<path d="M84.9,631.6L109.5,617.3M84.9,622.4L109.5,608.2M84.9,613.3L109.5,599.0M84.9,604.2L109.5,589.9M84.9,595.0L109.5,580.7M84.9,585.9L109.5,571.6M84.9,576.7L109.5,562.5M84.9,567.6L109.5,553.3M84.9,558.4L109.5,544.2M84.9,549.3L109.5,535.0" stroke="#2c2c2c" stroke-width="0.87" fill="none"/>
<path d="M109.5,617.3L134.3,631.6M109.5,608.2L134.3,622.4M109.5,599.0L134.3,613.3M109.5,589.9L134.3,604.2M109.5,580.7L134.3,595.0M109.5,571.6L134.3,585.9M109.5,562.5L134.3,576.7M109.5,553.3L134.3,567.6M109.5,544.2L134.3,558.4M109.5,535.0L134.3,549.3" stroke="#2c2c2c" stroke-width="0.87" fill="none" clip-path="url(#c9)"/>
<path d="M109.5,626.5V535.0" stroke="#2c2c2c" stroke-width="0.97" fill="none"/>
<path d="M93.0,636.0V544.6M117.7,631.2V546.5M101.1,631.3V539.9M125.9,635.9V558.1" stroke="#4a443e" stroke-width="1.46" fill="none"/>
<clipPath id="c10"><polygon points="84.9,640.7 110.0,655.0 110.0,584.2 84.9,549.3"/></clipPath>
<path d="M84.9,631.6L110.0,645.9M84.9,622.4L110.0,636.7M84.9,613.3L110.0,627.6M84.9,604.2L110.0,618.4M84.9,595.0L110.0,609.3M84.9,585.9L110.0,600.1M84.9,576.7L110.0,591.0M84.9,567.6L110.0,581.8M84.9,558.4L110.0,572.7M84.9,549.3L110.0,563.5" stroke="#3a3a3a" stroke-width="1.16" fill="none" clip-path="url(#c10)"/>
<path d="M110.0,645.9L134.3,631.6M110.0,636.7L134.3,622.4M110.0,627.6L134.3,613.3M110.0,618.4L134.3,604.2M110.0,609.3L134.3,595.0M110.0,600.1L134.3,585.9M110.0,591.0L134.3,576.7M84.9,640.7V549.3M110.0,655.0V584.2M134.3,640.7V569.9M84.9,549.3L109.5,535.0L134.3,569.9L110.0,584.2ZM93.2,560.8L117.7,546.5M101.5,572.3L125.9,558.1" stroke="#3a3a3a" stroke-width="1.16" fill="none"/>
<path d="M93.2,645.4V560.8M118.0,650.3V579.5M101.5,650.2V572.3M126.1,645.6V574.8" stroke="#4a443e" stroke-width="1.65" fill="none"/>
<polygon points="84.9,549.3 109.5,535.0 134.3,565.9 108.0,578.2" fill="#e9e9e9" stroke="#bdbdbd" stroke-width="0.8" stroke-linejoin="round" />
<g transform="matrix(24.64,-14.26,23.12,28.92,84.88,549.27)">
<path d="M0.14,0.36 A0.36,0.26 0 0 1 0.86,0.36 Z" fill="#2e2e2e"/>
<path d="M0.14,0.68 A0.36,0.26 0 0 1 0.86,0.68 Z" fill="#2e2e2e"/>
</g>
<rect x="127.6" y="646.7" width="5.7" height="3.2" fill="#9aa7b5" transform="rotate(-5 127.6 646.7)"/><rect x="131.9" y="656.1" width="3.4" height="4.0" fill="#aeb6c0" transform="rotate(32 131.9 656.1)"/><rect x="136.0" y="666.9" width="7.0" height="2.4" fill="#7d8894" transform="rotate(37 136.0 666.9)"/><rect x="121.6" y="673.0" width="5.4" height="3.5" fill="#4a5058" transform="rotate(-27 121.6 673.0)"/><rect x="80.2" y="664.2" width="5.0" height="2.6" fill="#e8ecef" transform="rotate(-33 80.2 664.2)"/><rect x="93.9" y="666.6" width="5.8" height="4.1" fill="#9aa7b5" transform="rotate(-13 93.9 666.6)"/><rect x="87.2" y="647.7" width="3.4" height="5.0" fill="#4a5058" transform="rotate(38 87.2 647.7)"/><rect x="130.6" y="658.1" width="3.2" height="4.3" fill="#2a2d31" transform="rotate(20 130.6 658.1)"/><rect x="132.0" y="633.9" width="7.1" height="4.8" fill="#9aa7b5" transform="rotate(-28 132.0 633.9)"/><rect x="144.4" y="644.4" width="7.2" height="2.3" fill="#d8dde3" transform="rotate(24 144.4 644.4)"/><rect x="131.8" y="670.8" width="4.6" height="2.1" fill="#aeb6c0" transform="rotate(24 131.8 670.8)"/><rect x="153.0" y="662.1" width="3.4" height="4.6" fill="#5f6a76" transform="rotate(-39 153.0 662.1)"/><rect x="142.8" y="651.5" width="8.5" height="3.9" fill="#d8dde3" transform="rotate(2 142.8 651.5)"/><rect x="113.0" y="657.8" width="4.0" height="2.2" fill="#4a5058" transform="rotate(35 113.0 657.8)"/><rect x="87.4" y="647.1" width="4.2" height="3.3" fill="#7d8894" transform="rotate(-18 87.4 647.1)"/><rect x="129.2" y="631.3" width="3.2" height="2.1" fill="#c5d0da" transform="rotate(4 129.2 631.3)"/><rect x="124.3" y="665.1" width="8.6" height="2.3" fill="#9aa7b5" transform="rotate(13 124.3 665.1)"/><rect x="65.6" y="652.2" width="8.8" height="2.9" fill="#4a5058" transform="rotate(39 65.6 652.2)"/><rect x="86.4" y="674.5" width="7.2" height="3.9" fill="#9aa7b5" transform="rotate(39 86.4 674.5)"/><rect x="158.4" y="649.8" width="3.1" height="3.9" fill="#2a2d31" transform="rotate(-6 158.4 649.8)"/><rect x="150.3" y="657.9" width="5.3" height="3.5" fill="#2a2d31" transform="rotate(8 150.3 657.9)"/><rect x="109.1" y="648.8" width="4.1" height="2.8" fill="#d8dde3" transform="rotate(-19 109.1 648.8)"/><rect x="161.7" y="646.9" width="6.3" height="2.7" fill="#2a2d31" transform="rotate(-23 161.7 646.9)"/><rect x="123.0" y="662.4" width="3.5" height="2.8" fill="#4a5058" transform="rotate(-20 123.0 662.4)"/><rect x="114.0" y="646.9" width="7.9" height="2.4" fill="#eef1f3" transform="rotate(-37 114.0 646.9)"/><rect x="137.2" y="653.5" width="4.4" height="3.8" fill="#c5d0da" transform="rotate(28 137.2 653.5)"/><rect x="139.2" y="669.0" width="7.7" height="3.8" fill="#e8ecef" transform="rotate(18 139.2 669.0)"/><rect x="87.6" y="658.4" width="6.7" height="2.4" fill="#c5d0da" transform="rotate(10 87.6 658.4)"/><rect x="107.4" y="632.7" width="3.8" height="3.6" fill="#c5d0da" transform="rotate(5 107.4 632.7)"/><rect x="113.7" y="650.3" width="7.1" height="4.4" fill="#4a5058" transform="rotate(-33 113.7 650.3)"/><rect x="150.3" y="656.4" width="8.8" height="3.1" fill="#5f6a76" transform="rotate(5 150.3 656.4)"/><rect x="84.7" y="646.1" width="7.1" height="3.5" fill="#d8dde3" transform="rotate(-3 84.7 646.1)"/><rect x="157.1" y="661.0" width="8.4" height="2.3" fill="#c5d0da" transform="rotate(-35 157.1 661.0)"/><rect x="110.1" y="642.4" width="3.4" height="2.8" fill="#4a5058" transform="rotate(-22 110.1 642.4)"/><rect x="92.8" y="646.8" width="8.1" height="2.2" fill="#2a2d31" transform="rotate(21 92.8 646.8)"/><rect x="82.4" y="646.7" width="3.5" height="2.4" fill="#2a2d31" transform="rotate(12 82.4 646.7)"/><rect x="98.3" y="642.5" width="3.8" height="3.4" fill="#5f6a76" transform="rotate(-18 98.3 642.5)"/><rect x="92.4" y="642.4" width="7.1" height="2.9" fill="#c5d0da" transform="rotate(-17 92.4 642.4)"/><rect x="68.7" y="662.0" width="9.0" height="3.6" fill="#2a2d31" transform="rotate(38 68.7 662.0)"/><rect x="116.2" y="651.2" width="5.8" height="4.5" fill="#5f6a76" transform="rotate(40 116.2 651.2)"/>
<rect x="86" y="672" width="2.5" height="2" fill="#e5e5e5"/>
<rect x="92" y="676" width="2.5" height="2" fill="#e5e5e5"/>
<rect x="100" y="670" width="2.5" height="2" fill="#e5e5e5"/>
<rect x="79" y="668" width="2.5" height="2" fill="#e5e5e5"/>
<rect x="96" y="682" width="2.5" height="2" fill="#e5e5e5"/>
<rect x="104" y="677" width="2.5" height="2" fill="#e5e5e5"/>
<g>
<polygon points="373.0,397.7 373.0,259.1 427.7,257.1 427.7,245.4 484.3,243.4 484.3,236.4 570.2,239.5 574.1,247.3 632.7,251.2 632.7,268.8 664.0,268.8 665.2,288.4 656.2,296.2 691.3,298.1 703.0,311.8 703.0,331.3 697.2,333.3 695.2,376.2 662.0,382.1 623.0,389.9 558.5,397.7 525.3,403.6 464.8,413.4 423.8,417.3 413.2,403.6" fill="#3a3a38" opacity="0.55" filter="url(#b2)"/>
<polyline points="373.0,397.7 373.0,259.1 427.7,257.1 427.7,245.4 484.3,243.4 484.3,236.4 570.2,239.5 574.1,247.3 632.7,251.2 632.7,268.8 664.0,268.8 665.2,288.4 656.2,296.2 691.3,298.1 703.0,311.8 703.0,331.3 697.2,333.3 695.2,376.2 662.0,382.1 662.0,367.7 628.8,365.3 623.0,389.9 558.5,397.7 525.3,403.6 522.2,370.4 558.5,362.6 558.5,397.7" fill="none" stroke="#f0f0f0" stroke-width="1.6" opacity="0.95" stroke-linejoin="round"/>
<polyline points="376.9,395.8 376.9,263.0 430.8,260.6 430.8,249.3 487.4,247.3 487.4,240.3 567.1,243.4 571.0,251.2 628.8,255.2 628.8,272.7 660.1,272.7 661.2,286.4" fill="none" stroke="#f0f0f0" stroke-width="0.9" opacity="0.8" stroke-linejoin="round"/>
<polyline points="373.0,278.6 427.7,277.4" fill="none" stroke="#f0f0f0" stroke-width="1.0" opacity="0.75" stroke-linejoin="round"/>
<polyline points="373.0,296.2 427.7,295.0" fill="none" stroke="#f0f0f0" stroke-width="1.0" opacity="0.75" stroke-linejoin="round"/>
<polyline points="373.0,313.8 427.7,312.6" fill="none" stroke="#f0f0f0" stroke-width="1.0" opacity="0.75" stroke-linejoin="round"/>
<polyline points="373.0,333.3 427.7,332.1" fill="none" stroke="#f0f0f0" stroke-width="1.0" opacity="0.75" stroke-linejoin="round"/>
<polyline points="373.0,352.8 427.7,351.6" fill="none" stroke="#f0f0f0" stroke-width="1.0" opacity="0.75" stroke-linejoin="round"/>
<polyline points="373.0,370.4 427.7,369.2" fill="none" stroke="#f0f0f0" stroke-width="1.0" opacity="0.75" stroke-linejoin="round"/>
<polyline points="388.6,258.3 388.6,391.9" fill="none" stroke="#f0f0f0" stroke-width="0.9" opacity="0.7" stroke-linejoin="round"/>
<polyline points="408.1,258.3 408.1,391.9" fill="none" stroke="#f0f0f0" stroke-width="0.9" opacity="0.7" stroke-linejoin="round"/>
<polyline points="427.7,257.1 427.7,313.8" fill="none" stroke="#f0f0f0" stroke-width="1.0" opacity="0.8" stroke-linejoin="round"/>
<polyline points="484.3,243.4 485.5,257.1 570.2,259.1 570.2,239.5" fill="none" stroke="#f0f0f0" stroke-width="1.0" opacity="0.85" stroke-linejoin="round"/>
<polyline points="515.5,237.6 516.7,274.7" fill="none" stroke="#f0f0f0" stroke-width="1.0" opacity="0.8" stroke-linejoin="round"/>
<polyline points="427.7,257.1 517.5,255.9" fill="none" stroke="#f0f0f0" stroke-width="1.0" opacity="0.8" stroke-linejoin="round"/>
<polyline points="564.4,259.1 564.4,274.7 611.2,276.6 611.2,251.2" fill="none" stroke="#f0f0f0" stroke-width="1.0" opacity="0.8" stroke-linejoin="round"/>
<polyline points="611.2,263.0 632.7,263.8" fill="none" stroke="#f0f0f0" stroke-width="1.0" opacity="0.8" stroke-linejoin="round"/>
<polyline points="603.4,259.1 634.7,259.8" fill="none" stroke="#f0f0f0" stroke-width="1.0" opacity="0.7" stroke-linejoin="round"/>
<polyline points="632.7,278.6 662.0,279.4 662.0,270.0" fill="none" stroke="#f0f0f0" stroke-width="1.0" opacity="0.8" stroke-linejoin="round"/>
<polyline points="656.2,296.2 656.2,317.7" fill="none" stroke="#f0f0f0" stroke-width="1.0" opacity="0.7" stroke-linejoin="round"/>
<polyline points="691.3,298.1 691.3,374.3" fill="none" stroke="#f0f0f0" stroke-width="1.0" opacity="0.8" stroke-linejoin="round"/>
<polyline points="677.7,313.8 677.7,376.2" fill="none" stroke="#f0f0f0" stroke-width="0.9" opacity="0.6" stroke-linejoin="round"/>
<polyline points="662.0,329.4 662.0,367.7" fill="none" stroke="#f0f0f0" stroke-width="1.0" opacity="0.8" stroke-linejoin="round"/>
<path d="M458.9,259.1 Q486.2,257.1 490.2,274.7 M464.8,263.0 Q480.4,262.2 483.1,274.7" stroke="#f0f0f0" stroke-width="1.2" fill="none" opacity="0.85"/>
<polyline points="525.3,374.3 576.1,372.3 578.0,380.2 578.0,397.7" fill="none" stroke="#f0f0f0" stroke-width="1.0" opacity="0.85" stroke-linejoin="round"/>
<polyline points="558.5,362.6 626.9,363.8" fill="none" stroke="#f0f0f0" stroke-width="1.0" opacity="0.85" stroke-linejoin="round"/>
<polyline points="578.0,380.2 623.0,374.3 628.8,365.3" fill="none" stroke="#f0f0f0" stroke-width="1.0" opacity="0.8" stroke-linejoin="round"/>
<polyline points="628.8,365.3 654.2,367.7 654.2,384.1" fill="none" stroke="#f0f0f0" stroke-width="1.0" opacity="0.7" stroke-linejoin="round"/>
<polyline points="330.0,388.0 414.0,370.4 415.9,376.2 330.0,393.8" fill="none" stroke="#f0f0f0" stroke-width="1.4" opacity="0.9" stroke-linejoin="round"/>
<polyline points="404.2,374.3 403.4,411.4" fill="none" stroke="#f0f0f0" stroke-width="1.0" opacity="0.8" stroke-linejoin="round"/>
<polyline points="414.0,372.3 413.2,403.6" fill="none" stroke="#f0f0f0" stroke-width="1.0" opacity="0.8" stroke-linejoin="round"/>
<polyline points="413.2,403.6 423.8,417.3 464.8,413.4 462.8,391.9" fill="none" stroke="#f0f0f0" stroke-width="1.2" opacity="0.9" stroke-linejoin="round"/>
<polyline points="435.5,374.3 435.5,414.5" fill="none" stroke="#f0f0f0" stroke-width="1.0" opacity="0.8" stroke-linejoin="round"/>
<polyline points="441.3,374.3 441.3,414.5" fill="none" stroke="#f0f0f0" stroke-width="1.0" opacity="0.8" stroke-linejoin="round"/>
<polyline points="447.2,374.3 447.2,414.5" fill="none" stroke="#f0f0f0" stroke-width="1.0" opacity="0.8" stroke-linejoin="round"/>
<polyline points="453.0,374.3 453.0,414.5" fill="none" stroke="#f0f0f0" stroke-width="1.0" opacity="0.8" stroke-linejoin="round"/>
<polyline points="458.9,374.3 458.9,414.5" fill="none" stroke="#f0f0f0" stroke-width="1.0" opacity="0.8" stroke-linejoin="round"/>
<polyline points="468.7,372.3 483.5,413.4" fill="none" stroke="#f0f0f0" stroke-width="1.3" opacity="0.9" stroke-linejoin="round"/>
<polyline points="475.3,372.3 490.2,413.4" fill="none" stroke="#f0f0f0" stroke-width="1.3" opacity="0.9" stroke-linejoin="round"/>
<polyline points="482.3,372.3 497.2,413.4" fill="none" stroke="#f0f0f0" stroke-width="1.3" opacity="0.9" stroke-linejoin="round"/>
<polyline points="489.4,372.3 504.2,413.4" fill="none" stroke="#f0f0f0" stroke-width="1.3" opacity="0.9" stroke-linejoin="round"/>
<polyline points="462.8,391.9 498.0,376.2 509.7,411.4 464.8,413.4" fill="none" stroke="#f0f0f0" stroke-width="1.2" opacity="0.9" stroke-linejoin="round"/>
<polyline points="414.0,391.9 423.8,391.9" fill="none" stroke="#f0f0f0" stroke-width="1.0" opacity="0.7" stroke-linejoin="round"/>
<polyline points="335.9,331.3 371.0,330.5" fill="none" stroke="#f0f0f0" stroke-width="0.9" opacity="0.45" stroke-linejoin="round"/>
<polyline points="335.9,336.8 371.0,336.0" fill="none" stroke="#f0f0f0" stroke-width="0.9" opacity="0.45" stroke-linejoin="round"/>
<polyline points="335.9,342.3 371.0,341.5" fill="none" stroke="#f0f0f0" stroke-width="0.9" opacity="0.45" stroke-linejoin="round"/>
<polyline points="335.9,347.7 371.0,347.0" fill="none" stroke="#f0f0f0" stroke-width="0.9" opacity="0.45" stroke-linejoin="round"/>
<polyline points="335.9,353.2 371.0,352.4" fill="none" stroke="#f0f0f0" stroke-width="0.9" opacity="0.45" stroke-linejoin="round"/>
<polyline points="335.9,358.7 371.0,357.9" fill="none" stroke="#f0f0f0" stroke-width="0.9" opacity="0.45" stroke-linejoin="round"/>
<polyline points="335.9,364.1 371.0,363.4" fill="none" stroke="#f0f0f0" stroke-width="0.9" opacity="0.45" stroke-linejoin="round"/>
<polyline points="335.9,369.6 371.0,368.8" fill="none" stroke="#f0f0f0" stroke-width="0.9" opacity="0.45" stroke-linejoin="round"/>
<polyline points="335.9,375.1 371.0,374.3" fill="none" stroke="#f0f0f0" stroke-width="0.9" opacity="0.45" stroke-linejoin="round"/>
<polyline points="335.9,331.3 335.9,384.1" fill="none" stroke="#f0f0f0" stroke-width="0.9" opacity="0.5" stroke-linejoin="round"/>
</g>
<polygon points="464.8,269.7 484.2,280.7 464.8,291.5 445.4,280.7" fill="#b786c4" stroke="#ffffff" stroke-width="0.8" stroke-linejoin="round" opacity="0.92" stroke-opacity="0.45"/>
<polygon points="445.4,280.7 464.8,291.5 464.8,308.5 445.4,298.0" fill="#a06aa8" stroke="#ffffff" stroke-width="0.8" stroke-linejoin="round" opacity="0.6" stroke-opacity="0.45"/>
<polygon points="415.5,292.3 439.7,306.0 439.7,333.5 415.5,319.8" fill="#d98c2c" stroke="#ffffff" stroke-width="0.8" stroke-linejoin="round" opacity="0.92" stroke-opacity="0.45"/>
<polygon points="439.7,306.0 464.8,292.3 464.8,319.8 439.7,333.5" fill="#e9b040" stroke="#ffffff" stroke-width="0.8" stroke-linejoin="round" opacity="0.85" stroke-opacity="0.45"/>
<polygon points="439.7,278.6 464.8,292.3 439.7,306.0 415.5,292.3" fill="#f6cb4c" stroke="#ffffff" stroke-width="0.8" stroke-linejoin="round" opacity="0.95" stroke-opacity="0.45"/>
<polygon points="465.6,292.3 490.6,306.0 490.6,333.5 465.6,319.8" fill="#e0524a" stroke="#ffffff" stroke-width="0.8" stroke-linejoin="round" opacity="0.9" stroke-opacity="0.45"/>
<polygon points="490.6,306.0 514.9,292.3 514.9,319.8 490.6,333.5" fill="#f08a3c" stroke="#ffffff" stroke-width="0.8" stroke-linejoin="round" opacity="0.95" stroke-opacity="0.45"/>
<polygon points="490.6,278.6 514.9,292.3 490.6,306.0 465.6,292.3" fill="#c9782c" stroke="#ffffff" stroke-width="0.8" stroke-linejoin="round" opacity="0.92" stroke-opacity="0.45"/>
<polygon points="415.5,325.4 439.7,311.7 464.8,325.4 439.7,339.2" fill="#a89a30" stroke="#ffffff" stroke-width="0.8" stroke-linejoin="round" opacity="0.85" stroke-opacity="0.45"/>
<polygon points="415.5,325.4 439.7,339.2 439.7,366.6 415.5,352.9" fill="#8aa630" stroke="#ffffff" stroke-width="0.8" stroke-linejoin="round" opacity="0.95" stroke-opacity="0.45"/>
<polygon points="439.7,339.2 464.8,325.4 464.8,352.9 439.7,366.6" fill="#b0b83c" stroke="#ffffff" stroke-width="0.8" stroke-linejoin="round" opacity="0.85" stroke-opacity="0.45"/>
<polygon points="465.6,325.4 490.6,311.7 514.9,325.4 490.6,339.2" fill="#d8683a" stroke="#ffffff" stroke-width="0.8" stroke-linejoin="round" opacity="0.85" stroke-opacity="0.45"/>
<polygon points="465.6,325.4 490.6,339.2 490.6,366.6 465.6,352.9" fill="#d8402c" stroke="#ffffff" stroke-width="0.8" stroke-linejoin="round" opacity="0.92" stroke-opacity="0.45"/>
<polygon points="490.6,339.2 514.9,325.4 514.9,352.9 490.6,366.6" fill="#e4603c" stroke="#ffffff" stroke-width="0.8" stroke-linejoin="round" opacity="0.95" stroke-opacity="0.45"/>
<polygon points="434.9,314.9 464.8,331.9 464.8,362.6 434.9,345.6" fill="#1fb6e2" stroke="#ffffff" stroke-width="0.8" stroke-linejoin="round" opacity="0.9" stroke-opacity="0.6"/>
<polygon points="464.8,331.9 494.7,314.9 494.7,345.6 464.8,362.6" fill="#9cc9ea" stroke="#ffffff" stroke-width="0.8" stroke-linejoin="round" opacity="0.9" stroke-opacity="0.6"/>
<polygon points="464.8,298.0 494.7,314.9 464.8,331.9 434.9,314.9" fill="#dfe6e8" stroke="#ffffff" stroke-width="0.8" stroke-linejoin="round" opacity="0.85" stroke-opacity="0.7"/>
<path d="M464.8,314.9L464.8,298.0M464.8,314.9L494.7,331.9M464.8,314.9L434.9,331.9" stroke="#fff" stroke-width="0.8" opacity="0.35" fill="none"/>
<circle cx="464.8" cy="322.2" r="4" fill="#b0a0e0" opacity="0.5"/>
<rect x="11" y="68" width="209" height="67" fill="#000" opacity="0.55" filter="url(#b1)"/>
<rect x="10" y="66" width="209" height="67" fill="url(#lab)"/>
<rect x="10" y="66" width="2" height="67" fill="#e6f8b8" opacity="0.7"/>
<rect x="217" y="66" width="2" height="67" fill="#8fbb45" opacity="0.6"/>
<text x="32.5" y="94" font-size="22" fill="#2c3d2e" stroke="#2c3d2e" stroke-width="0.35" textLength="162.0" lengthAdjust="spacing" xml:space="preserve">Концептуальное</text>
<text x="32.5" y="119.5" font-size="22" fill="#2c3d2e" stroke="#2c3d2e" stroke-width="0.35" textLength="162.0" lengthAdjust="spacing" xml:space="preserve">проектирование</text>
<rect x="264" y="5" width="189" height="66" fill="#000" opacity="0.55" filter="url(#b1)"/>
<rect x="263" y="3" width="189" height="66" fill="url(#lab)"/>
<rect x="263" y="3" width="2" height="66" fill="#e6f8b8" opacity="0.7"/>
<rect x="450" y="3" width="2" height="66" fill="#8fbb45" opacity="0.6"/>
<text x="305.5" y="30.5" font-size="22" fill="#2c3d2e" stroke="#2c3d2e" stroke-width="0.35" textLength="102.5" lengthAdjust="spacing" xml:space="preserve">Детальное</text>
<text x="281" y="57" font-size="22" fill="#2c3d2e" stroke="#2c3d2e" stroke-width="0.35" textLength="151.5" lengthAdjust="spacing" xml:space="preserve">проектировани</text>
<text x="352" y="81" font-size="20" fill="#1d2f4a" opacity="0.9">е</text>
<rect x="639" y="5" width="189" height="41" fill="#000" opacity="0.55" filter="url(#b1)"/>
<rect x="638" y="3" width="189" height="41" fill="url(#lab)"/>
<rect x="638" y="3" width="2" height="41" fill="#e6f8b8" opacity="0.7"/>
<rect x="825" y="3" width="2" height="41" fill="#8fbb45" opacity="0.6"/>
<text x="696" y="29.5" font-size="22" fill="#2c3d2e" stroke="#2c3d2e" stroke-width="0.35" textLength="70.0" lengthAdjust="spacing" xml:space="preserve">Анализ</text>
<rect x="756" y="66" width="189" height="40" fill="#000" opacity="0.55" filter="url(#b1)"/>
<rect x="755" y="64" width="189" height="40" fill="url(#lab)"/>
<rect x="755" y="64" width="2" height="40" fill="#e6f8b8" opacity="0.7"/>
<rect x="942" y="64" width="2" height="40" fill="#8fbb45" opacity="0.6"/>
<text x="778.5" y="90" font-size="22" fill="#2c3d2e" stroke="#2c3d2e" stroke-width="0.35" textLength="141.2" lengthAdjust="spacing" xml:space="preserve">документация</text>
<rect x="424" y="179" width="189" height="40" fill="#000" opacity="0.55" filter="url(#b1)"/>
<rect x="423" y="177" width="189" height="40" fill="url(#lab)"/>
<rect x="423" y="177" width="2" height="40" fill="#e6f8b8" opacity="0.7"/>
<rect x="610" y="177" width="2" height="40" fill="#8fbb45" opacity="0.6"/>
<text x="448.75" y="203.75" font-size="22" fill="#2c3d2e" stroke="#2c3d2e" stroke-width="0.35" textLength="135.8" lengthAdjust="spacing" xml:space="preserve">Визуализация</text>
<rect x="6.5" y="218" width="225.5" height="41" fill="#000" opacity="0.55" filter="url(#b1)"/>
<rect x="5.5" y="216" width="225.5" height="41" fill="url(#lab)"/>
<rect x="5.5" y="216" width="2" height="41" fill="#e6f8b8" opacity="0.7"/>
<rect x="229" y="216" width="2" height="41" fill="#8fbb45" opacity="0.6"/>
<text x="22" y="244.5" font-size="22" fill="#2c3d2e" stroke="#2c3d2e" stroke-width="0.35" textLength="192.5" lengthAdjust="spacing" xml:space="preserve">Программирование</text>
<rect x="844" y="378" width="181" height="39" fill="#000" opacity="0.55" filter="url(#b1)"/>
<rect x="843" y="376" width="181" height="39" fill="url(#lab)"/>
<rect x="843" y="376" width="2" height="39" fill="#e6f8b8" opacity="0.7"/>
<rect x="1022" y="376" width="2" height="39" fill="#8fbb45" opacity="0.6"/>
<text x="868" y="402.5" font-size="22" fill="#2c3d2e" stroke="#2c3d2e" stroke-width="0.35" textLength="136.0" lengthAdjust="spacing" xml:space="preserve">Производство</text>
<rect x="3" y="466" width="188" height="41" fill="#000" opacity="0.55" filter="url(#b1)"/>
<rect x="2" y="464" width="188" height="41" fill="url(#lab)"/>
<rect x="2" y="464" width="2" height="41" fill="#e6f8b8" opacity="0.7"/>
<rect x="188" y="464" width="2" height="41" fill="#8fbb45" opacity="0.6"/>
<text x="19.5" y="491" font-size="22" fill="#2c3d2e" stroke="#2c3d2e" stroke-width="0.35" textLength="147.5" lengthAdjust="spacing" xml:space="preserve">Реконструкция</text>
<rect x="827" y="543" width="188" height="66" fill="#000" opacity="0.55" filter="url(#b1)"/>
<rect x="826" y="541" width="188" height="66" fill="url(#lab)"/>
<rect x="826" y="541" width="2" height="66" fill="#e6f8b8" opacity="0.7"/>
<rect x="1012" y="541" width="2" height="66" fill="#8fbb45" opacity="0.6"/>
<text x="848" y="568" font-size="22" fill="#2c3d2e" stroke="#2c3d2e" stroke-width="0.35" textLength="143.0" lengthAdjust="spacing" xml:space="preserve">Строительство</text>
<text x="888" y="595.5" font-size="22" fill="#2c3d2e" stroke="#2c3d2e" stroke-width="0.35" textLength="60.5" lengthAdjust="spacing" xml:space="preserve">4D/5D</text>
<rect x="584" y="621" width="188" height="66" fill="#000" opacity="0.55" filter="url(#b1)"/>
<rect x="583" y="619" width="188" height="66" fill="url(#lab)"/>
<rect x="583" y="619" width="2" height="66" fill="#e6f8b8" opacity="0.7"/>
<rect x="769" y="619" width="2" height="66" fill="#8fbb45" opacity="0.6"/>
<text x="609.5" y="645" font-size="22" fill="#2c3d2e" stroke="#2c3d2e" stroke-width="0.35" textLength="135.0" lengthAdjust="spacing" xml:space="preserve">Строительная</text>
<text x="627" y="671.5" font-size="22" fill="#2c3d2e" stroke="#2c3d2e" stroke-width="0.35" textLength="100.0" lengthAdjust="spacing" xml:space="preserve">логистика</text>
<rect x="308.5" y="609" width="188.5" height="92" fill="#000" opacity="0.55" filter="url(#b1)"/>
<rect x="307.5" y="607" width="188.5" height="92" fill="url(#lab)"/>
<rect x="307.5" y="607" width="2" height="92" fill="#e6f8b8" opacity="0.7"/>
<rect x="494" y="607" width="2" height="92" fill="#8fbb45" opacity="0.6"/>
<text x="324.5" y="634" font-size="22" fill="#2c3d2e" stroke="#2c3d2e" stroke-width="0.35" textLength="153.0" lengthAdjust="spacing" xml:space="preserve">Эксплуатация и</text>
<text x="340" y="660" font-size="22" fill="#2c3d2e" stroke="#2c3d2e" stroke-width="0.35" textLength="122.0" lengthAdjust="spacing" xml:space="preserve">техническое</text>
<text x="331" y="686" font-size="22" fill="#2c3d2e" stroke="#2c3d2e" stroke-width="0.35" textLength="140.0" lengthAdjust="spacing" xml:space="preserve">обслуживание</text>
<rect x="98" y="662" width="189" height="41" fill="#000" opacity="0.55" filter="url(#b1)"/>
<rect x="97" y="660" width="189" height="41" fill="url(#lab)"/>
<rect x="97" y="660" width="2" height="41" fill="#e6f8b8" opacity="0.7"/>
<rect x="284" y="660" width="2" height="41" fill="#8fbb45" opacity="0.6"/>
<text x="168.75" y="687" font-size="22" fill="#2c3d2e" stroke="#2c3d2e" stroke-width="0.35" textLength="45.0" lengthAdjust="spacing" xml:space="preserve">Снос</text>
<text class="sans" x="523" y="302" font-size="25" fill="#f4f4f4" textLength="88" lengthAdjust="spacingAndGlyphs">Building</text>
<text class="sans" x="523" y="330.5" font-size="25" fill="#f4f4f4" textLength="125" lengthAdjust="spacingAndGlyphs">Information</text>
<text class="sans" x="523" y="358.7" font-size="25" fill="#f4f4f4" textLength="100" lengthAdjust="spacingAndGlyphs">Modeling</text>
<rect x="0" y="0" width="1024" height="1.2" fill="#4d4d4d"/>
<rect x="0" y="0" width="1.5" height="712" fill="#f4f4f4"/>
<rect x="0" y="710.3" width="1024" height="1.7" fill="#f1f1f1"/>
</svg>
</body></html>
